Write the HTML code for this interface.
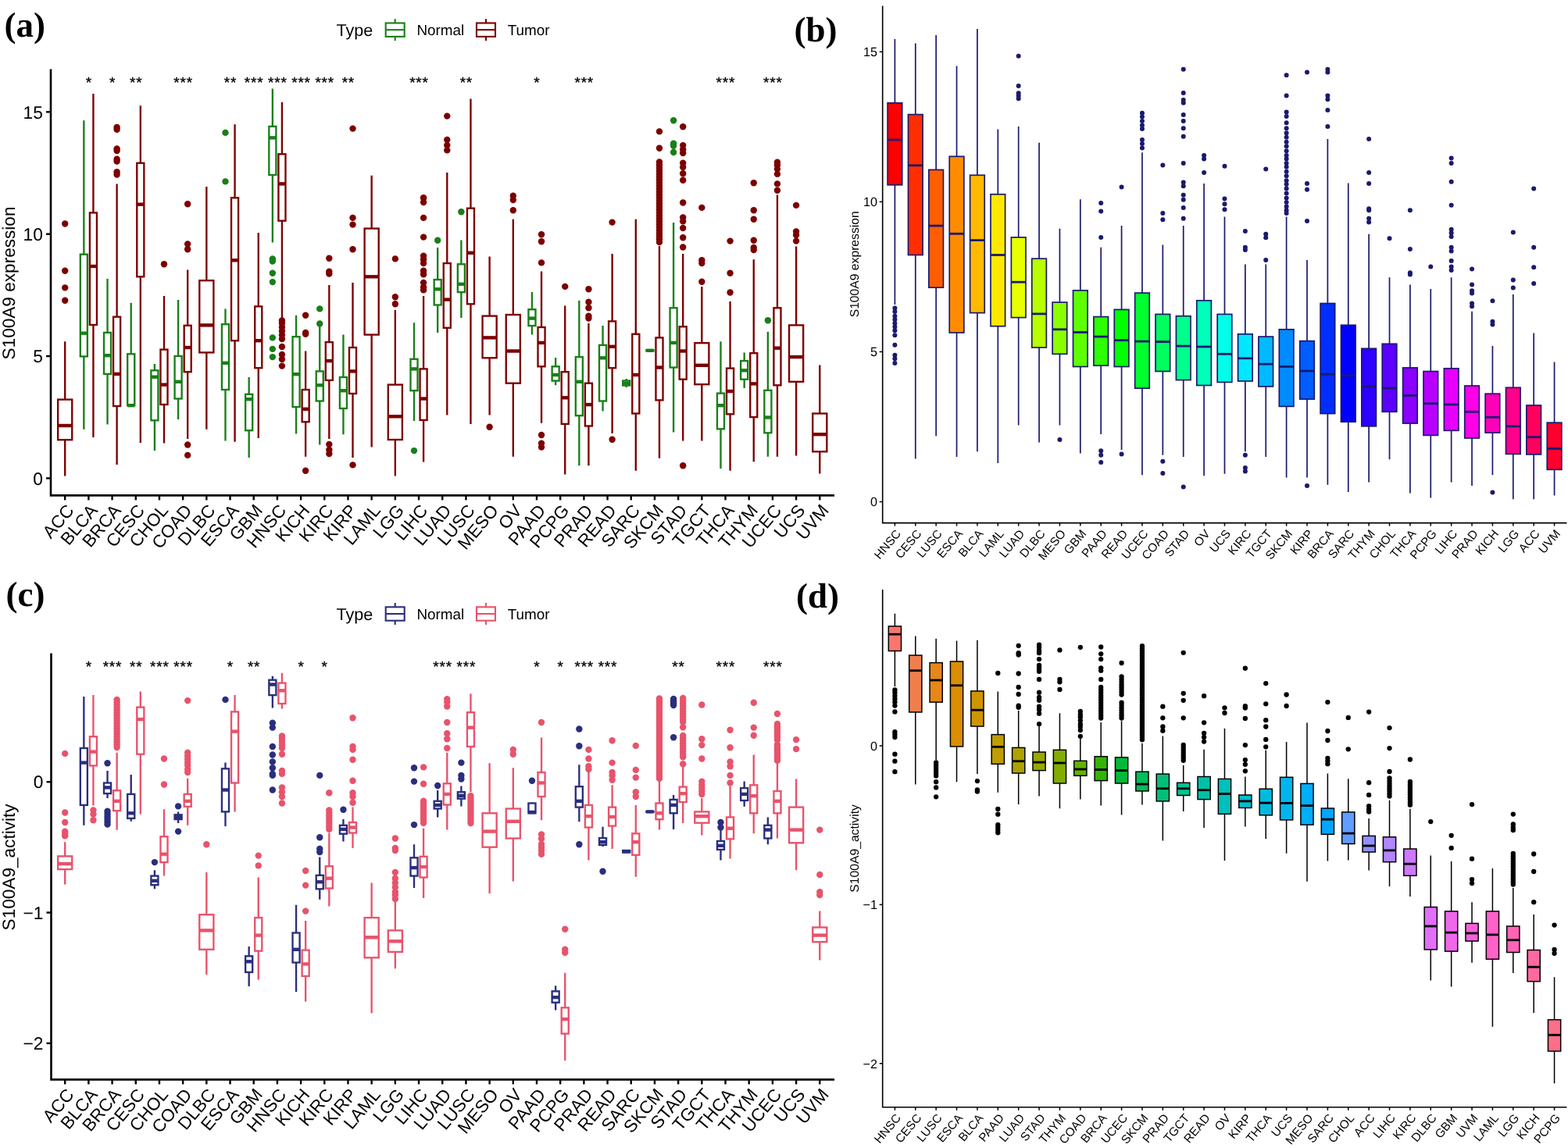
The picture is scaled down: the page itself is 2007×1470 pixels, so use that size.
<!DOCTYPE html><html><head><meta charset="utf-8"><title>S100A9 expression and activity</title><style>html,body{margin:0;padding:0;background:#fff;}svg{display:block;}</style></head><body><svg width="2007" height="1470" viewBox="0 0 2007 1470" text-rendering="geometricPrecision"><rect width="2007" height="1470" fill="#fff"/><path d="M83.2 437.3V511.6M83.2 563.2V609.5" stroke="#7C0000" stroke-width="2.35"/><rect x="74.15" y="511.6" width="18.1" height="51.6" fill="#fff" stroke="#7C0000" stroke-width="2.35"/><path d="M74.15 545H92.25" stroke="#7C0000" stroke-width="4.4"/><circle cx="83.2" cy="286.5" r="4.2" fill="#7C0000"/><circle cx="83.2" cy="346.7" r="4.2" fill="#7C0000"/><circle cx="83.2" cy="368.4" r="4.2" fill="#7C0000"/><circle cx="83.2" cy="384.8" r="4.2" fill="#7C0000"/><path d="M107.35 154.3V325.7M107.35 456.4V549.7" stroke="#187F18" stroke-width="2.35"/><rect x="102.82" y="325.7" width="9.06" height="130.7" fill="#fff" stroke="#187F18" stroke-width="2.35"/><path d="M102.82 426.7H111.88" stroke="#187F18" stroke-width="4.4"/><path d="M119.43 120V272.4M119.43 416V560" stroke="#7C0000" stroke-width="2.35"/><rect x="114.9" y="272.4" width="9.06" height="143.6" fill="#fff" stroke="#7C0000" stroke-width="2.35"/><path d="M114.9 341H123.96" stroke="#7C0000" stroke-width="4.4"/><path d="M137.54 357V425.9M137.54 478.9V543.6" stroke="#187F18" stroke-width="2.35"/><rect x="133.01" y="425.9" width="9.06" height="53" fill="#fff" stroke="#187F18" stroke-width="2.35"/><path d="M133.01 455.2H142.07" stroke="#187F18" stroke-width="4.4"/><path d="M149.62 235.4V405.7M149.62 520V595" stroke="#7C0000" stroke-width="2.35"/><rect x="145.09" y="405.7" width="9.06" height="114.3" fill="#fff" stroke="#7C0000" stroke-width="2.35"/><path d="M145.09 478.9H154.15" stroke="#7C0000" stroke-width="4.4"/><circle cx="149.62" cy="163" r="4.2" fill="#7C0000"/><circle cx="149.62" cy="165.7" r="4.2" fill="#7C0000"/><circle cx="149.62" cy="190.5" r="4.2" fill="#7C0000"/><circle cx="149.62" cy="193" r="4.2" fill="#7C0000"/><circle cx="149.62" cy="203.8" r="4.2" fill="#7C0000"/><circle cx="149.62" cy="206.5" r="4.2" fill="#7C0000"/><circle cx="149.62" cy="220.2" r="4.2" fill="#7C0000"/><circle cx="149.62" cy="223.6" r="4.2" fill="#7C0000"/><path d="M167.73 387.8V453.3M167.73 519.2V519.2" stroke="#187F18" stroke-width="2.35"/><rect x="163.2" y="453.3" width="9.06" height="65.9" fill="#fff" stroke="#187F18" stroke-width="2.35"/><path d="M163.2 519.2H172.26" stroke="#187F18" stroke-width="4.4"/><path d="M179.81 135.2V208.8M179.81 354.3V566.9" stroke="#7C0000" stroke-width="2.35"/><rect x="175.28" y="208.8" width="9.06" height="145.5" fill="#fff" stroke="#7C0000" stroke-width="2.35"/><path d="M175.28 261.7H184.34" stroke="#7C0000" stroke-width="4.4"/><path d="M197.92 466V474.3M197.92 538.3V577.1" stroke="#187F18" stroke-width="2.35"/><rect x="193.39" y="474.3" width="9.06" height="64" fill="#fff" stroke="#187F18" stroke-width="2.35"/><path d="M193.39 482.7H202.45" stroke="#187F18" stroke-width="4.4"/><path d="M210 379V447.6M210 518V567.6" stroke="#7C0000" stroke-width="2.35"/><rect x="205.47" y="447.6" width="9.06" height="70.4" fill="#fff" stroke="#7C0000" stroke-width="2.35"/><path d="M205.47 492.6H214.53" stroke="#7C0000" stroke-width="4.4"/><circle cx="210" cy="338.3" r="4.2" fill="#7C0000"/><path d="M228.11 384V456M228.11 510.5V537" stroke="#187F18" stroke-width="2.35"/><rect x="223.58" y="456" width="9.06" height="54.5" fill="#fff" stroke="#187F18" stroke-width="2.35"/><path d="M223.58 488.8H232.64" stroke="#187F18" stroke-width="4.4"/><path d="M240.19 345.5V416.8M240.19 476.2V562" stroke="#7C0000" stroke-width="2.35"/><rect x="235.66" y="416.8" width="9.06" height="59.4" fill="#fff" stroke="#7C0000" stroke-width="2.35"/><path d="M235.66 445H244.72" stroke="#7C0000" stroke-width="4.4"/><circle cx="240.19" cy="261.3" r="4.2" fill="#7C0000"/><circle cx="240.19" cy="312.4" r="4.2" fill="#7C0000"/><circle cx="240.19" cy="319.2" r="4.2" fill="#7C0000"/><circle cx="240.19" cy="569.5" r="4.2" fill="#7C0000"/><circle cx="240.19" cy="582.9" r="4.2" fill="#7C0000"/><path d="M264.34 238.9V359.2M264.34 451.4V549.7" stroke="#7C0000" stroke-width="2.35"/><rect x="255.29" y="359.2" width="18.1" height="92.2" fill="#fff" stroke="#7C0000" stroke-width="2.35"/><path d="M255.29 416.4H273.39" stroke="#7C0000" stroke-width="4.4"/><path d="M288.49 395.4V415.2M288.49 499V564.6" stroke="#187F18" stroke-width="2.35"/><rect x="283.96" y="415.2" width="9.06" height="83.8" fill="#fff" stroke="#187F18" stroke-width="2.35"/><path d="M283.96 464.8H293.02" stroke="#187F18" stroke-width="4.4"/><circle cx="288.49" cy="169.9" r="4.2" fill="#187F18"/><circle cx="288.49" cy="232.4" r="4.2" fill="#187F18"/><path d="M300.57 159.2V253.3M300.57 436.2V565.7" stroke="#7C0000" stroke-width="2.35"/><rect x="296.04" y="253.3" width="9.06" height="182.9" fill="#fff" stroke="#7C0000" stroke-width="2.35"/><path d="M296.04 333.3H305.1" stroke="#7C0000" stroke-width="4.4"/><path d="M318.68 483V504.8M318.68 551.2V585.9" stroke="#187F18" stroke-width="2.35"/><rect x="314.15" y="504.8" width="9.06" height="46.4" fill="#fff" stroke="#187F18" stroke-width="2.35"/><path d="M314.15 511.2H323.21" stroke="#187F18" stroke-width="4.4"/><path d="M330.76 297.9V392.4M330.76 471.2V561.1" stroke="#7C0000" stroke-width="2.35"/><rect x="326.23" y="392.4" width="9.06" height="78.8" fill="#fff" stroke="#7C0000" stroke-width="2.35"/><path d="M326.23 436.2H335.29" stroke="#7C0000" stroke-width="4.4"/><path d="M348.87 113.5V161.9M348.87 224V310.5" stroke="#187F18" stroke-width="2.35"/><rect x="344.34" y="161.9" width="9.06" height="62.1" fill="#fff" stroke="#187F18" stroke-width="2.35"/><path d="M344.34 176.4H353.4" stroke="#187F18" stroke-width="4.4"/><circle cx="348.87" cy="331.4" r="4.2" fill="#187F18"/><circle cx="348.87" cy="334.5" r="4.2" fill="#187F18"/><circle cx="348.87" cy="349.7" r="4.2" fill="#187F18"/><circle cx="348.87" cy="361.1" r="4.2" fill="#187F18"/><circle cx="348.87" cy="432.4" r="4.2" fill="#187F18"/><circle cx="348.87" cy="446.9" r="4.2" fill="#187F18"/><circle cx="348.87" cy="457.1" r="4.2" fill="#187F18"/><path d="M360.95 130.7V197.3M360.95 282.7V408" stroke="#7C0000" stroke-width="2.35"/><rect x="356.42" y="197.3" width="9.06" height="85.4" fill="#fff" stroke="#7C0000" stroke-width="2.35"/><path d="M356.42 235.4H365.48" stroke="#7C0000" stroke-width="4.4"/><circle cx="360.95" cy="410.5" r="4.2" fill="#7C0000"/><circle cx="360.95" cy="414" r="4.2" fill="#7C0000"/><circle cx="360.95" cy="419" r="4.2" fill="#7C0000"/><circle cx="360.95" cy="424" r="4.2" fill="#7C0000"/><circle cx="360.95" cy="429" r="4.2" fill="#7C0000"/><circle cx="360.95" cy="434" r="4.2" fill="#7C0000"/><circle cx="360.95" cy="444" r="4.2" fill="#7C0000"/><circle cx="360.95" cy="454" r="4.2" fill="#7C0000"/><circle cx="360.95" cy="460" r="4.2" fill="#7C0000"/><circle cx="360.95" cy="468.6" r="4.2" fill="#7C0000"/><path d="M379.06 403.8V431.2M379.06 521.1V555.4" stroke="#187F18" stroke-width="2.35"/><rect x="374.53" y="431.2" width="9.06" height="89.9" fill="#fff" stroke="#187F18" stroke-width="2.35"/><path d="M374.53 479.2H383.59" stroke="#187F18" stroke-width="4.4"/><path d="M391.14 449.5V499M391.14 540.2V584.8" stroke="#7C0000" stroke-width="2.35"/><rect x="386.61" y="499" width="9.06" height="41.2" fill="#fff" stroke="#7C0000" stroke-width="2.35"/><path d="M386.61 523.8H395.67" stroke="#7C0000" stroke-width="4.4"/><circle cx="391.14" cy="403.8" r="4.2" fill="#7C0000"/><circle cx="391.14" cy="425.9" r="4.2" fill="#7C0000"/><circle cx="391.14" cy="427.8" r="4.2" fill="#7C0000"/><circle cx="391.14" cy="602.7" r="4.2" fill="#7C0000"/><path d="M409.25 418.3V475.4M409.25 513.5V569.5" stroke="#187F18" stroke-width="2.35"/><rect x="404.72" y="475.4" width="9.06" height="38.1" fill="#fff" stroke="#187F18" stroke-width="2.35"/><path d="M404.72 493.3H413.78" stroke="#187F18" stroke-width="4.4"/><circle cx="409.25" cy="395.4" r="4.2" fill="#187F18"/><circle cx="409.25" cy="414.5" r="4.2" fill="#187F18"/><path d="M421.33 365V438.1M421.33 486.9V561.9" stroke="#7C0000" stroke-width="2.35"/><rect x="416.8" y="438.1" width="9.06" height="48.8" fill="#fff" stroke="#7C0000" stroke-width="2.35"/><path d="M416.8 462.1H425.86" stroke="#7C0000" stroke-width="4.4"/><circle cx="421.33" cy="330.7" r="4.2" fill="#7C0000"/><circle cx="421.33" cy="347.8" r="4.2" fill="#7C0000"/><circle cx="421.33" cy="350.5" r="4.2" fill="#7C0000"/><circle cx="421.33" cy="569" r="4.2" fill="#7C0000"/><circle cx="421.33" cy="576" r="4.2" fill="#7C0000"/><circle cx="421.33" cy="581" r="4.2" fill="#7C0000"/><path d="M439.44 428.6V483M439.44 523V556.2" stroke="#187F18" stroke-width="2.35"/><rect x="434.91" y="483" width="9.06" height="40" fill="#fff" stroke="#187F18" stroke-width="2.35"/><path d="M434.91 500.2H443.97" stroke="#187F18" stroke-width="4.4"/><path d="M451.52 361.9V445M451.52 504V585.9" stroke="#7C0000" stroke-width="2.35"/><rect x="446.99" y="445" width="9.06" height="59" fill="#fff" stroke="#7C0000" stroke-width="2.35"/><path d="M446.99 475.4H456.05" stroke="#7C0000" stroke-width="4.4"/><circle cx="451.52" cy="164.6" r="4.2" fill="#7C0000"/><circle cx="451.52" cy="278.9" r="4.2" fill="#7C0000"/><circle cx="451.52" cy="287.6" r="4.2" fill="#7C0000"/><circle cx="451.52" cy="319.2" r="4.2" fill="#7C0000"/><circle cx="451.52" cy="595.4" r="4.2" fill="#7C0000"/><path d="M475.67 224.8V292.6M475.67 428.6V572.6" stroke="#7C0000" stroke-width="2.35"/><rect x="466.62" y="292.6" width="18.1" height="136" fill="#fff" stroke="#7C0000" stroke-width="2.35"/><path d="M466.62 354.3H484.72" stroke="#7C0000" stroke-width="4.4"/><path d="M505.86 397V492.6M505.86 563V609.5" stroke="#7C0000" stroke-width="2.35"/><rect x="496.81" y="492.6" width="18.1" height="70.4" fill="#fff" stroke="#7C0000" stroke-width="2.35"/><path d="M496.81 533.3H514.91" stroke="#7C0000" stroke-width="4.4"/><circle cx="505.86" cy="331.4" r="4.2" fill="#7C0000"/><circle cx="505.86" cy="380.2" r="4.2" fill="#7C0000"/><circle cx="505.86" cy="389.3" r="4.2" fill="#7C0000"/><path d="M530.01 413.3V459.8M530.01 500.2V539" stroke="#187F18" stroke-width="2.35"/><rect x="525.48" y="459.8" width="9.06" height="40.4" fill="#fff" stroke="#187F18" stroke-width="2.35"/><path d="M525.48 472.4H534.54" stroke="#187F18" stroke-width="4.4"/><circle cx="530.01" cy="577.1" r="4.2" fill="#187F18"/><path d="M542.09 379V472.4M542.09 537.9V591.6" stroke="#7C0000" stroke-width="2.35"/><rect x="537.56" y="472.4" width="9.06" height="65.5" fill="#fff" stroke="#7C0000" stroke-width="2.35"/><path d="M537.56 510.5H546.62" stroke="#7C0000" stroke-width="4.4"/><circle cx="542.09" cy="253.3" r="4.2" fill="#7C0000"/><circle cx="542.09" cy="259" r="4.2" fill="#7C0000"/><circle cx="542.09" cy="278.9" r="4.2" fill="#7C0000"/><circle cx="542.09" cy="303.6" r="4.2" fill="#7C0000"/><circle cx="542.09" cy="327.6" r="4.2" fill="#7C0000"/><circle cx="542.09" cy="332.2" r="4.2" fill="#7C0000"/><circle cx="542.09" cy="337.1" r="4.2" fill="#7C0000"/><circle cx="542.09" cy="346.7" r="4.2" fill="#7C0000"/><circle cx="542.09" cy="351.2" r="4.2" fill="#7C0000"/><circle cx="542.09" cy="361.9" r="4.2" fill="#7C0000"/><circle cx="542.09" cy="367.6" r="4.2" fill="#7C0000"/><circle cx="542.09" cy="371.4" r="4.2" fill="#7C0000"/><path d="M560.2 317V358.1M560.2 390.5V425.9" stroke="#187F18" stroke-width="2.35"/><rect x="555.67" y="358.1" width="9.06" height="32.4" fill="#fff" stroke="#187F18" stroke-width="2.35"/><path d="M555.67 370.3H564.73" stroke="#187F18" stroke-width="4.4"/><circle cx="560.2" cy="307.8" r="4.2" fill="#187F18"/><path d="M572.28 221V337.1M572.28 419.8V531.4" stroke="#7C0000" stroke-width="2.35"/><rect x="567.75" y="337.1" width="9.06" height="82.7" fill="#fff" stroke="#7C0000" stroke-width="2.35"/><path d="M567.75 383.6H576.81" stroke="#7C0000" stroke-width="4.4"/><circle cx="572.28" cy="148.6" r="4.2" fill="#7C0000"/><circle cx="572.28" cy="179" r="4.2" fill="#7C0000"/><circle cx="572.28" cy="185.9" r="4.2" fill="#7C0000"/><circle cx="572.28" cy="192.4" r="4.2" fill="#7C0000"/><path d="M590.39 307.4V338.3M590.39 374.1V406.9" stroke="#187F18" stroke-width="2.35"/><rect x="585.86" y="338.3" width="9.06" height="35.8" fill="#fff" stroke="#187F18" stroke-width="2.35"/><path d="M585.86 363.8H594.92" stroke="#187F18" stroke-width="4.4"/><circle cx="590.39" cy="271.2" r="4.2" fill="#187F18"/><path d="M602.47 126.5V266.7M602.47 389.3V542.9" stroke="#7C0000" stroke-width="2.35"/><rect x="597.94" y="266.7" width="9.06" height="122.6" fill="#fff" stroke="#7C0000" stroke-width="2.35"/><path d="M597.94 323.8H607" stroke="#7C0000" stroke-width="4.4"/><path d="M626.62 328.4V404.6M626.62 458.3V531.4" stroke="#7C0000" stroke-width="2.35"/><rect x="617.57" y="404.6" width="18.1" height="53.7" fill="#fff" stroke="#7C0000" stroke-width="2.35"/><path d="M617.57 432.4H635.67" stroke="#7C0000" stroke-width="4.4"/><circle cx="626.62" cy="546.7" r="4.2" fill="#7C0000"/><path d="M656.81 280.8V403M656.81 490.7V584.8" stroke="#7C0000" stroke-width="2.35"/><rect x="647.76" y="403" width="18.1" height="87.7" fill="#fff" stroke="#7C0000" stroke-width="2.35"/><path d="M647.76 449.5H665.86" stroke="#7C0000" stroke-width="4.4"/><circle cx="656.81" cy="250.7" r="4.2" fill="#7C0000"/><circle cx="656.81" cy="256" r="4.2" fill="#7C0000"/><circle cx="656.81" cy="269.3" r="4.2" fill="#7C0000"/><path d="M680.96 374.1V396.2M680.96 417.1V428.6" stroke="#187F18" stroke-width="2.35"/><rect x="676.43" y="396.2" width="9.06" height="20.9" fill="#fff" stroke="#187F18" stroke-width="2.35"/><path d="M676.43 407.6H685.49" stroke="#187F18" stroke-width="4.4"/><path d="M693.04 347.4V419M693.04 469.3V541.7" stroke="#7C0000" stroke-width="2.35"/><rect x="688.51" y="419" width="9.06" height="50.3" fill="#fff" stroke="#7C0000" stroke-width="2.35"/><path d="M688.51 438.9H697.57" stroke="#7C0000" stroke-width="4.4"/><circle cx="693.04" cy="300.2" r="4.2" fill="#7C0000"/><circle cx="693.04" cy="309.3" r="4.2" fill="#7C0000"/><circle cx="693.04" cy="336.4" r="4.2" fill="#7C0000"/><circle cx="693.04" cy="557" r="4.2" fill="#7C0000"/><circle cx="693.04" cy="567.6" r="4.2" fill="#7C0000"/><circle cx="693.04" cy="572.6" r="4.2" fill="#7C0000"/><path d="M711.15 457.9V469.3M711.15 487.6V493.3" stroke="#187F18" stroke-width="2.35"/><rect x="706.62" y="469.3" width="9.06" height="18.3" fill="#fff" stroke="#187F18" stroke-width="2.35"/><path d="M706.62 480H715.68" stroke="#187F18" stroke-width="4.4"/><path d="M723.23 391.6V476.2M723.23 542.9V607.6" stroke="#7C0000" stroke-width="2.35"/><rect x="718.7" y="476.2" width="9.06" height="66.7" fill="#fff" stroke="#7C0000" stroke-width="2.35"/><path d="M718.7 509.3H727.76" stroke="#7C0000" stroke-width="4.4"/><circle cx="723.23" cy="366.9" r="4.2" fill="#7C0000"/><path d="M741.34 384.8V457.1M741.34 532.2V596.2" stroke="#187F18" stroke-width="2.35"/><rect x="736.81" y="457.1" width="9.06" height="75.1" fill="#fff" stroke="#187F18" stroke-width="2.35"/><path d="M736.81 488.8H745.87" stroke="#187F18" stroke-width="4.4"/><path d="M753.42 414.1V490.7M753.42 545.5V596.2" stroke="#7C0000" stroke-width="2.35"/><rect x="748.89" y="490.7" width="9.06" height="54.8" fill="#fff" stroke="#7C0000" stroke-width="2.35"/><path d="M748.89 518.1H757.95" stroke="#7C0000" stroke-width="4.4"/><circle cx="753.42" cy="370.3" r="4.2" fill="#7C0000"/><circle cx="753.42" cy="386.7" r="4.2" fill="#7C0000"/><circle cx="753.42" cy="394.3" r="4.2" fill="#7C0000"/><circle cx="753.42" cy="404.6" r="4.2" fill="#7C0000"/><circle cx="753.42" cy="407.6" r="4.2" fill="#7C0000"/><path d="M771.53 417.1V441.9M771.53 513.5V526.5" stroke="#187F18" stroke-width="2.35"/><rect x="767" y="441.9" width="9.06" height="71.6" fill="#fff" stroke="#187F18" stroke-width="2.35"/><path d="M767 458.3H776.06" stroke="#187F18" stroke-width="4.4"/><path d="M783.61 325V411.4M783.61 471.2V555" stroke="#7C0000" stroke-width="2.35"/><rect x="779.08" y="411.4" width="9.06" height="59.8" fill="#fff" stroke="#7C0000" stroke-width="2.35"/><path d="M779.08 443.8H788.14" stroke="#7C0000" stroke-width="4.4"/><circle cx="783.61" cy="284.6" r="4.2" fill="#7C0000"/><circle cx="783.61" cy="562.7" r="4.2" fill="#7C0000"/><path d="M801.72 485V487.5M801.72 493.5V496" stroke="#187F18" stroke-width="2.35"/><rect x="797.19" y="487.5" width="9.06" height="6" fill="#fff" stroke="#187F18" stroke-width="2.35"/><path d="M797.19 490.7H806.25" stroke="#187F18" stroke-width="4.4"/><path d="M813.8 280.8V427.8M813.8 529.5V602.7" stroke="#7C0000" stroke-width="2.35"/><rect x="809.27" y="427.8" width="9.06" height="101.7" fill="#fff" stroke="#7C0000" stroke-width="2.35"/><path d="M809.27 480H818.33" stroke="#7C0000" stroke-width="4.4"/><path d="M831.91 447.6V448.2M831.91 449.4V450" stroke="#187F18" stroke-width="2.35"/><rect x="827.38" y="448.2" width="9.06" height="1.2" fill="#fff" stroke="#187F18" stroke-width="2.35"/><path d="M827.38 448.8H836.44" stroke="#187F18" stroke-width="4.4"/><path d="M843.99 315V432.4M843.99 512.4V586.7" stroke="#7C0000" stroke-width="2.35"/><rect x="839.46" y="432.4" width="9.06" height="80" fill="#fff" stroke="#7C0000" stroke-width="2.35"/><path d="M839.46 470.5H848.52" stroke="#7C0000" stroke-width="4.4"/><circle cx="843.99" cy="168.4" r="4.2" fill="#7C0000"/><circle cx="843.99" cy="189.8" r="4.2" fill="#7C0000"/><circle cx="843.99" cy="207.5" r="4.2" fill="#7C0000"/><circle cx="843.99" cy="211.3" r="4.2" fill="#7C0000"/><circle cx="843.99" cy="215.1" r="4.2" fill="#7C0000"/><circle cx="843.99" cy="218.9" r="4.2" fill="#7C0000"/><circle cx="843.99" cy="222.7" r="4.2" fill="#7C0000"/><circle cx="843.99" cy="226.5" r="4.2" fill="#7C0000"/><circle cx="843.99" cy="230.3" r="4.2" fill="#7C0000"/><circle cx="843.99" cy="234.1" r="4.2" fill="#7C0000"/><circle cx="843.99" cy="237.9" r="4.2" fill="#7C0000"/><circle cx="843.99" cy="241.7" r="4.2" fill="#7C0000"/><circle cx="843.99" cy="245.5" r="4.2" fill="#7C0000"/><circle cx="843.99" cy="249.3" r="4.2" fill="#7C0000"/><circle cx="843.99" cy="253.1" r="4.2" fill="#7C0000"/><circle cx="843.99" cy="256.9" r="4.2" fill="#7C0000"/><circle cx="843.99" cy="260.7" r="4.2" fill="#7C0000"/><circle cx="843.99" cy="264.5" r="4.2" fill="#7C0000"/><circle cx="843.99" cy="268.3" r="4.2" fill="#7C0000"/><circle cx="843.99" cy="272.1" r="4.2" fill="#7C0000"/><circle cx="843.99" cy="275.9" r="4.2" fill="#7C0000"/><circle cx="843.99" cy="279.7" r="4.2" fill="#7C0000"/><circle cx="843.99" cy="283.5" r="4.2" fill="#7C0000"/><circle cx="843.99" cy="287.3" r="4.2" fill="#7C0000"/><circle cx="843.99" cy="291.1" r="4.2" fill="#7C0000"/><circle cx="843.99" cy="294.9" r="4.2" fill="#7C0000"/><circle cx="843.99" cy="298.7" r="4.2" fill="#7C0000"/><circle cx="843.99" cy="302.5" r="4.2" fill="#7C0000"/><circle cx="843.99" cy="306.3" r="4.2" fill="#7C0000"/><circle cx="843.99" cy="310.1" r="4.2" fill="#7C0000"/><path d="M862.1 285V394.3M862.1 470.5V553.5" stroke="#187F18" stroke-width="2.35"/><rect x="857.57" y="394.3" width="9.06" height="76.2" fill="#fff" stroke="#187F18" stroke-width="2.35"/><path d="M857.57 438.9H866.63" stroke="#187F18" stroke-width="4.4"/><circle cx="862.1" cy="154.3" r="4.2" fill="#187F18"/><circle cx="862.1" cy="183.6" r="4.2" fill="#187F18"/><circle cx="862.1" cy="186.7" r="4.2" fill="#187F18"/><circle cx="862.1" cy="195" r="4.2" fill="#187F18"/><path d="M874.18 325V418.3M874.18 485.7V564.6" stroke="#7C0000" stroke-width="2.35"/><rect x="869.65" y="418.3" width="9.06" height="67.4" fill="#fff" stroke="#7C0000" stroke-width="2.35"/><path d="M869.65 449.5H878.71" stroke="#7C0000" stroke-width="4.4"/><circle cx="874.18" cy="162.2" r="4.2" fill="#7C0000"/><circle cx="874.18" cy="186.1" r="4.2" fill="#7C0000"/><circle cx="874.18" cy="191.5" r="4.2" fill="#7C0000"/><circle cx="874.18" cy="196" r="4.2" fill="#7C0000"/><circle cx="874.18" cy="208.8" r="4.2" fill="#7C0000"/><circle cx="874.18" cy="214" r="4.2" fill="#7C0000"/><circle cx="874.18" cy="222.2" r="4.2" fill="#7C0000"/><circle cx="874.18" cy="230.8" r="4.2" fill="#7C0000"/><circle cx="874.18" cy="259.5" r="4.2" fill="#7C0000"/><circle cx="874.18" cy="278.5" r="4.2" fill="#7C0000"/><circle cx="874.18" cy="283.4" r="4.2" fill="#7C0000"/><circle cx="874.18" cy="292" r="4.2" fill="#7C0000"/><circle cx="874.18" cy="304.2" r="4.2" fill="#7C0000"/><circle cx="874.18" cy="316.5" r="4.2" fill="#7C0000"/><circle cx="874.18" cy="596.2" r="4.2" fill="#7C0000"/><path d="M898.33 367V439.2M898.33 492.2V564.6" stroke="#7C0000" stroke-width="2.35"/><rect x="889.28" y="439.2" width="18.1" height="53" fill="#fff" stroke="#7C0000" stroke-width="2.35"/><path d="M889.28 467.8H907.38" stroke="#7C0000" stroke-width="4.4"/><circle cx="898.33" cy="265.9" r="4.2" fill="#7C0000"/><circle cx="898.33" cy="333.3" r="4.2" fill="#7C0000"/><circle cx="898.33" cy="337.1" r="4.2" fill="#7C0000"/><circle cx="898.33" cy="360.8" r="4.2" fill="#7C0000"/><path d="M922.48 437.3V503.6M922.48 549.3V600" stroke="#187F18" stroke-width="2.35"/><rect x="917.95" y="503.6" width="9.06" height="45.7" fill="#fff" stroke="#187F18" stroke-width="2.35"/><path d="M917.95 519.2H927.01" stroke="#187F18" stroke-width="4.4"/><path d="M934.56 385.9V471.6M934.56 530.3V602.7" stroke="#7C0000" stroke-width="2.35"/><rect x="930.03" y="471.6" width="9.06" height="58.7" fill="#fff" stroke="#7C0000" stroke-width="2.35"/><path d="M930.03 501H939.09" stroke="#7C0000" stroke-width="4.4"/><circle cx="934.56" cy="308.6" r="4.2" fill="#7C0000"/><circle cx="934.56" cy="349.7" r="4.2" fill="#7C0000"/><circle cx="934.56" cy="374.5" r="4.2" fill="#7C0000"/><path d="M952.67 451.4V462.1M952.67 485.7V497.1" stroke="#187F18" stroke-width="2.35"/><rect x="948.14" y="462.1" width="9.06" height="23.6" fill="#fff" stroke="#187F18" stroke-width="2.35"/><path d="M948.14 474.3H957.2" stroke="#187F18" stroke-width="4.4"/><path d="M964.75 332.2V452.2M964.75 534.1V591.2" stroke="#7C0000" stroke-width="2.35"/><rect x="960.22" y="452.2" width="9.06" height="81.9" fill="#fff" stroke="#7C0000" stroke-width="2.35"/><path d="M960.22 491.4H969.28" stroke="#7C0000" stroke-width="4.4"/><circle cx="964.75" cy="234.3" r="4.2" fill="#7C0000"/><circle cx="964.75" cy="269.3" r="4.2" fill="#7C0000"/><circle cx="964.75" cy="280.8" r="4.2" fill="#7C0000"/><circle cx="964.75" cy="307.8" r="4.2" fill="#7C0000"/><circle cx="964.75" cy="317" r="4.2" fill="#7C0000"/><circle cx="964.75" cy="320" r="4.2" fill="#7C0000"/><path d="M982.86 424.8V499.8M982.86 554.3V584.8" stroke="#187F18" stroke-width="2.35"/><rect x="978.33" y="499.8" width="9.06" height="54.5" fill="#fff" stroke="#187F18" stroke-width="2.35"/><path d="M978.33 534.5H987.39" stroke="#187F18" stroke-width="4.4"/><circle cx="982.86" cy="410.3" r="4.2" fill="#187F18"/><path d="M994.94 249.5V394.3M994.94 493.3V584.8" stroke="#7C0000" stroke-width="2.35"/><rect x="990.41" y="394.3" width="9.06" height="99" fill="#fff" stroke="#7C0000" stroke-width="2.35"/><path d="M990.41 445.7H999.47" stroke="#7C0000" stroke-width="4.4"/><circle cx="994.94" cy="207.6" r="4.2" fill="#7C0000"/><circle cx="994.94" cy="211.4" r="4.2" fill="#7C0000"/><circle cx="994.94" cy="216.4" r="4.2" fill="#7C0000"/><circle cx="994.94" cy="222.9" r="4.2" fill="#7C0000"/><circle cx="994.94" cy="235.4" r="4.2" fill="#7C0000"/><circle cx="994.94" cy="243.8" r="4.2" fill="#7C0000"/><path d="M1019.09 315.4V416.4M1019.09 488.8V583.6" stroke="#7C0000" stroke-width="2.35"/><rect x="1010.04" y="416.4" width="18.1" height="72.4" fill="#fff" stroke="#7C0000" stroke-width="2.35"/><path d="M1010.04 457.1H1028.14" stroke="#7C0000" stroke-width="4.4"/><circle cx="1019.09" cy="262.9" r="4.2" fill="#7C0000"/><circle cx="1019.09" cy="296.4" r="4.2" fill="#7C0000"/><circle cx="1019.09" cy="301" r="4.2" fill="#7C0000"/><circle cx="1019.09" cy="308.6" r="4.2" fill="#7C0000"/><path d="M1049.28 467.4V529.5M1049.28 578.3V606.5" stroke="#7C0000" stroke-width="2.35"/><rect x="1040.23" y="529.5" width="18.1" height="48.8" fill="#fff" stroke="#7C0000" stroke-width="2.35"/><path d="M1040.23 556.2H1058.33" stroke="#7C0000" stroke-width="4.4"/><text x="113.79" y="111.7" text-anchor="middle" font-size="19" letter-spacing="0.8" stroke="#000" stroke-width="0.35" font-family="'Liberation Sans', Arial, Helvetica, sans-serif">*</text><text x="143.98" y="111.7" text-anchor="middle" font-size="19" letter-spacing="0.8" stroke="#000" stroke-width="0.35" font-family="'Liberation Sans', Arial, Helvetica, sans-serif">*</text><text x="174.17" y="111.7" text-anchor="middle" font-size="19" letter-spacing="0.8" stroke="#000" stroke-width="0.35" font-family="'Liberation Sans', Arial, Helvetica, sans-serif">**</text><text x="234.55" y="111.7" text-anchor="middle" font-size="19" letter-spacing="0.8" stroke="#000" stroke-width="0.35" font-family="'Liberation Sans', Arial, Helvetica, sans-serif">***</text><text x="294.93" y="111.7" text-anchor="middle" font-size="19" letter-spacing="0.8" stroke="#000" stroke-width="0.35" font-family="'Liberation Sans', Arial, Helvetica, sans-serif">**</text><text x="325.12" y="111.7" text-anchor="middle" font-size="19" letter-spacing="0.8" stroke="#000" stroke-width="0.35" font-family="'Liberation Sans', Arial, Helvetica, sans-serif">***</text><text x="355.31" y="111.7" text-anchor="middle" font-size="19" letter-spacing="0.8" stroke="#000" stroke-width="0.35" font-family="'Liberation Sans', Arial, Helvetica, sans-serif">***</text><text x="385.5" y="111.7" text-anchor="middle" font-size="19" letter-spacing="0.8" stroke="#000" stroke-width="0.35" font-family="'Liberation Sans', Arial, Helvetica, sans-serif">***</text><text x="415.69" y="111.7" text-anchor="middle" font-size="19" letter-spacing="0.8" stroke="#000" stroke-width="0.35" font-family="'Liberation Sans', Arial, Helvetica, sans-serif">***</text><text x="445.88" y="111.7" text-anchor="middle" font-size="19" letter-spacing="0.8" stroke="#000" stroke-width="0.35" font-family="'Liberation Sans', Arial, Helvetica, sans-serif">**</text><text x="536.45" y="111.7" text-anchor="middle" font-size="19" letter-spacing="0.8" stroke="#000" stroke-width="0.35" font-family="'Liberation Sans', Arial, Helvetica, sans-serif">***</text><text x="596.83" y="111.7" text-anchor="middle" font-size="19" letter-spacing="0.8" stroke="#000" stroke-width="0.35" font-family="'Liberation Sans', Arial, Helvetica, sans-serif">**</text><text x="687.4" y="111.7" text-anchor="middle" font-size="19" letter-spacing="0.8" stroke="#000" stroke-width="0.35" font-family="'Liberation Sans', Arial, Helvetica, sans-serif">*</text><text x="747.78" y="111.7" text-anchor="middle" font-size="19" letter-spacing="0.8" stroke="#000" stroke-width="0.35" font-family="'Liberation Sans', Arial, Helvetica, sans-serif">***</text><text x="928.92" y="111.7" text-anchor="middle" font-size="19" letter-spacing="0.8" stroke="#000" stroke-width="0.35" font-family="'Liberation Sans', Arial, Helvetica, sans-serif">***</text><text x="989.3" y="111.7" text-anchor="middle" font-size="19" letter-spacing="0.8" stroke="#000" stroke-width="0.35" font-family="'Liberation Sans', Arial, Helvetica, sans-serif">***</text><path d="M65 88.6V634.4H1068" fill="none" stroke="#000" stroke-width="2.6" stroke-linejoin="miter" stroke-linecap="butt"/><path d="M59 612.4H65" stroke="#000" stroke-width="2.4"/><text x="54.9" y="620.6" text-anchor="end" font-size="22.8" font-family="'Liberation Sans', Arial, Helvetica, sans-serif">0</text><path d="M59 456.05H65" stroke="#000" stroke-width="2.4"/><text x="54.9" y="464.25" text-anchor="end" font-size="22.8" font-family="'Liberation Sans', Arial, Helvetica, sans-serif">5</text><path d="M59 299.7H65" stroke="#000" stroke-width="2.4"/><text x="54.9" y="307.9" text-anchor="end" font-size="22.8" font-family="'Liberation Sans', Arial, Helvetica, sans-serif">10</text><path d="M59 143.35H65" stroke="#000" stroke-width="2.4"/><text x="54.9" y="151.55" text-anchor="end" font-size="22.8" font-family="'Liberation Sans', Arial, Helvetica, sans-serif">15</text><path d="M83.2 634.4V640.4" stroke="#000" stroke-width="2.4"/><text transform="translate(83.2 643.7) rotate(-50)" text-anchor="end" font-size="22.6" font-family="'Liberation Sans', Arial, Helvetica, sans-serif" dy="0.72em">ACC</text><path d="M113.39 634.4V640.4" stroke="#000" stroke-width="2.4"/><text transform="translate(113.39 643.7) rotate(-50)" text-anchor="end" font-size="22.6" font-family="'Liberation Sans', Arial, Helvetica, sans-serif" dy="0.72em">BLCA</text><path d="M143.58 634.4V640.4" stroke="#000" stroke-width="2.4"/><text transform="translate(143.58 643.7) rotate(-50)" text-anchor="end" font-size="22.6" font-family="'Liberation Sans', Arial, Helvetica, sans-serif" dy="0.72em">BRCA</text><path d="M173.77 634.4V640.4" stroke="#000" stroke-width="2.4"/><text transform="translate(173.77 643.7) rotate(-50)" text-anchor="end" font-size="22.6" font-family="'Liberation Sans', Arial, Helvetica, sans-serif" dy="0.72em">CESC</text><path d="M203.96 634.4V640.4" stroke="#000" stroke-width="2.4"/><text transform="translate(203.96 643.7) rotate(-50)" text-anchor="end" font-size="22.6" font-family="'Liberation Sans', Arial, Helvetica, sans-serif" dy="0.72em">CHOL</text><path d="M234.15 634.4V640.4" stroke="#000" stroke-width="2.4"/><text transform="translate(234.15 643.7) rotate(-50)" text-anchor="end" font-size="22.6" font-family="'Liberation Sans', Arial, Helvetica, sans-serif" dy="0.72em">COAD</text><path d="M264.34 634.4V640.4" stroke="#000" stroke-width="2.4"/><text transform="translate(264.34 643.7) rotate(-50)" text-anchor="end" font-size="22.6" font-family="'Liberation Sans', Arial, Helvetica, sans-serif" dy="0.72em">DLBC</text><path d="M294.53 634.4V640.4" stroke="#000" stroke-width="2.4"/><text transform="translate(294.53 643.7) rotate(-50)" text-anchor="end" font-size="22.6" font-family="'Liberation Sans', Arial, Helvetica, sans-serif" dy="0.72em">ESCA</text><path d="M324.72 634.4V640.4" stroke="#000" stroke-width="2.4"/><text transform="translate(324.72 643.7) rotate(-50)" text-anchor="end" font-size="22.6" font-family="'Liberation Sans', Arial, Helvetica, sans-serif" dy="0.72em">GBM</text><path d="M354.91 634.4V640.4" stroke="#000" stroke-width="2.4"/><text transform="translate(354.91 643.7) rotate(-50)" text-anchor="end" font-size="22.6" font-family="'Liberation Sans', Arial, Helvetica, sans-serif" dy="0.72em">HNSC</text><path d="M385.1 634.4V640.4" stroke="#000" stroke-width="2.4"/><text transform="translate(385.1 643.7) rotate(-50)" text-anchor="end" font-size="22.6" font-family="'Liberation Sans', Arial, Helvetica, sans-serif" dy="0.72em">KICH</text><path d="M415.29 634.4V640.4" stroke="#000" stroke-width="2.4"/><text transform="translate(415.29 643.7) rotate(-50)" text-anchor="end" font-size="22.6" font-family="'Liberation Sans', Arial, Helvetica, sans-serif" dy="0.72em">KIRC</text><path d="M445.48 634.4V640.4" stroke="#000" stroke-width="2.4"/><text transform="translate(445.48 643.7) rotate(-50)" text-anchor="end" font-size="22.6" font-family="'Liberation Sans', Arial, Helvetica, sans-serif" dy="0.72em">KIRP</text><path d="M475.67 634.4V640.4" stroke="#000" stroke-width="2.4"/><text transform="translate(475.67 643.7) rotate(-50)" text-anchor="end" font-size="22.6" font-family="'Liberation Sans', Arial, Helvetica, sans-serif" dy="0.72em">LAML</text><path d="M505.86 634.4V640.4" stroke="#000" stroke-width="2.4"/><text transform="translate(505.86 643.7) rotate(-50)" text-anchor="end" font-size="22.6" font-family="'Liberation Sans', Arial, Helvetica, sans-serif" dy="0.72em">LGG</text><path d="M536.05 634.4V640.4" stroke="#000" stroke-width="2.4"/><text transform="translate(536.05 643.7) rotate(-50)" text-anchor="end" font-size="22.6" font-family="'Liberation Sans', Arial, Helvetica, sans-serif" dy="0.72em">LIHC</text><path d="M566.24 634.4V640.4" stroke="#000" stroke-width="2.4"/><text transform="translate(566.24 643.7) rotate(-50)" text-anchor="end" font-size="22.6" font-family="'Liberation Sans', Arial, Helvetica, sans-serif" dy="0.72em">LUAD</text><path d="M596.43 634.4V640.4" stroke="#000" stroke-width="2.4"/><text transform="translate(596.43 643.7) rotate(-50)" text-anchor="end" font-size="22.6" font-family="'Liberation Sans', Arial, Helvetica, sans-serif" dy="0.72em">LUSC</text><path d="M626.62 634.4V640.4" stroke="#000" stroke-width="2.4"/><text transform="translate(626.62 643.7) rotate(-50)" text-anchor="end" font-size="22.6" font-family="'Liberation Sans', Arial, Helvetica, sans-serif" dy="0.72em">MESO</text><path d="M656.81 634.4V640.4" stroke="#000" stroke-width="2.4"/><text transform="translate(656.81 643.7) rotate(-50)" text-anchor="end" font-size="22.6" font-family="'Liberation Sans', Arial, Helvetica, sans-serif" dy="0.72em">OV</text><path d="M687 634.4V640.4" stroke="#000" stroke-width="2.4"/><text transform="translate(687 643.7) rotate(-50)" text-anchor="end" font-size="22.6" font-family="'Liberation Sans', Arial, Helvetica, sans-serif" dy="0.72em">PAAD</text><path d="M717.19 634.4V640.4" stroke="#000" stroke-width="2.4"/><text transform="translate(717.19 643.7) rotate(-50)" text-anchor="end" font-size="22.6" font-family="'Liberation Sans', Arial, Helvetica, sans-serif" dy="0.72em">PCPG</text><path d="M747.38 634.4V640.4" stroke="#000" stroke-width="2.4"/><text transform="translate(747.38 643.7) rotate(-50)" text-anchor="end" font-size="22.6" font-family="'Liberation Sans', Arial, Helvetica, sans-serif" dy="0.72em">PRAD</text><path d="M777.57 634.4V640.4" stroke="#000" stroke-width="2.4"/><text transform="translate(777.57 643.7) rotate(-50)" text-anchor="end" font-size="22.6" font-family="'Liberation Sans', Arial, Helvetica, sans-serif" dy="0.72em">READ</text><path d="M807.76 634.4V640.4" stroke="#000" stroke-width="2.4"/><text transform="translate(807.76 643.7) rotate(-50)" text-anchor="end" font-size="22.6" font-family="'Liberation Sans', Arial, Helvetica, sans-serif" dy="0.72em">SARC</text><path d="M837.95 634.4V640.4" stroke="#000" stroke-width="2.4"/><text transform="translate(837.95 643.7) rotate(-50)" text-anchor="end" font-size="22.6" font-family="'Liberation Sans', Arial, Helvetica, sans-serif" dy="0.72em">SKCM</text><path d="M868.14 634.4V640.4" stroke="#000" stroke-width="2.4"/><text transform="translate(868.14 643.7) rotate(-50)" text-anchor="end" font-size="22.6" font-family="'Liberation Sans', Arial, Helvetica, sans-serif" dy="0.72em">STAD</text><path d="M898.33 634.4V640.4" stroke="#000" stroke-width="2.4"/><text transform="translate(898.33 643.7) rotate(-50)" text-anchor="end" font-size="22.6" font-family="'Liberation Sans', Arial, Helvetica, sans-serif" dy="0.72em">TGCT</text><path d="M928.52 634.4V640.4" stroke="#000" stroke-width="2.4"/><text transform="translate(928.52 643.7) rotate(-50)" text-anchor="end" font-size="22.6" font-family="'Liberation Sans', Arial, Helvetica, sans-serif" dy="0.72em">THCA</text><path d="M958.71 634.4V640.4" stroke="#000" stroke-width="2.4"/><text transform="translate(958.71 643.7) rotate(-50)" text-anchor="end" font-size="22.6" font-family="'Liberation Sans', Arial, Helvetica, sans-serif" dy="0.72em">THYM</text><path d="M988.9 634.4V640.4" stroke="#000" stroke-width="2.4"/><text transform="translate(988.9 643.7) rotate(-50)" text-anchor="end" font-size="22.6" font-family="'Liberation Sans', Arial, Helvetica, sans-serif" dy="0.72em">UCEC</text><path d="M1019.09 634.4V640.4" stroke="#000" stroke-width="2.4"/><text transform="translate(1019.09 643.7) rotate(-50)" text-anchor="end" font-size="22.6" font-family="'Liberation Sans', Arial, Helvetica, sans-serif" dy="0.72em">UCS</text><path d="M1049.28 634.4V640.4" stroke="#000" stroke-width="2.4"/><text transform="translate(1049.28 643.7) rotate(-50)" text-anchor="end" font-size="22.6" font-family="'Liberation Sans', Arial, Helvetica, sans-serif" dy="0.72em">UVM</text><text transform="translate(18.5 362.5) rotate(-90)" text-anchor="middle" font-size="22.6" font-family="'Liberation Sans', Arial, Helvetica, sans-serif">S100A9 expression</text><text x="5.5" y="47" font-size="45" font-weight="bold" font-family="'Liberation Serif', 'Times New Roman', serif">(a)</text><text x="430.5" y="46.1" font-size="21.6" font-family="'Liberation Sans', Arial, Helvetica, sans-serif">Type</text><path d="M505.7 24.2V29.5M505.7 46.9V52.2" stroke="#187F18" stroke-width="2.1"/><rect x="493.7" y="29.5" width="24" height="17.4" fill="#fff" stroke="#187F18" stroke-width="2.1"/><path d="M493.7 38.2H517.7" stroke="#187F18" stroke-width="2.1"/><text x="533.4" y="45" font-size="18.9" font-family="'Liberation Sans', Arial, Helvetica, sans-serif">Normal</text><path d="M622 24.2V29.5M622 46.9V52.2" stroke="#7C0000" stroke-width="2.1"/><rect x="610" y="29.5" width="24" height="17.4" fill="#fff" stroke="#7C0000" stroke-width="2.1"/><path d="M610 38.2H634" stroke="#7C0000" stroke-width="2.1"/><text x="649.7" y="45" font-size="18.9" font-family="'Liberation Sans', Arial, Helvetica, sans-serif">Tumor</text><path d="M83.2 1078.2V1096.4M83.2 1113.1V1132.4" stroke="#E8536B" stroke-width="2.35"/><rect x="74.15" y="1096.4" width="18.1" height="16.7" fill="#fff" stroke="#E8536B" stroke-width="2.35"/><path d="M74.15 1106.1H92.25" stroke="#E8536B" stroke-width="4.4"/><circle cx="83.2" cy="964.9" r="4.2" fill="#E8536B"/><circle cx="83.2" cy="1040.5" r="4.2" fill="#E8536B"/><circle cx="83.2" cy="1053" r="4.2" fill="#E8536B"/><circle cx="83.2" cy="1064.6" r="4.2" fill="#E8536B"/><circle cx="83.2" cy="1067.3" r="4.2" fill="#E8536B"/><circle cx="83.2" cy="1070.4" r="4.2" fill="#E8536B"/><path d="M107.35 892V958M107.35 1030.9V1056.8" stroke="#2A2E7E" stroke-width="2.35"/><rect x="102.82" y="958" width="9.06" height="72.9" fill="#fff" stroke="#2A2E7E" stroke-width="2.35"/><path d="M102.82 976.6H111.88" stroke="#2A2E7E" stroke-width="4.4"/><path d="M119.43 890.1V943.2M119.43 980.4V1031.6" stroke="#E8536B" stroke-width="2.35"/><rect x="114.9" y="943.2" width="9.06" height="37.2" fill="#fff" stroke="#E8536B" stroke-width="2.35"/><path d="M114.9 962.6H123.96" stroke="#E8536B" stroke-width="4.4"/><circle cx="119.43" cy="1037.4" r="4.2" fill="#E8536B"/><circle cx="119.43" cy="1042.5" r="4.2" fill="#E8536B"/><circle cx="119.43" cy="1050.2" r="4.2" fill="#E8536B"/><path d="M137.54 987V1002.5M137.54 1016.1V1021.9" stroke="#2A2E7E" stroke-width="2.35"/><rect x="133.01" y="1002.5" width="9.06" height="13.6" fill="#fff" stroke="#2A2E7E" stroke-width="2.35"/><path d="M133.01 1008.4H142.07" stroke="#2A2E7E" stroke-width="4.4"/><circle cx="137.54" cy="977.3" r="4.2" fill="#2A2E7E"/><circle cx="137.54" cy="1038.6" r="4.2" fill="#2A2E7E"/><circle cx="137.54" cy="1042" r="4.2" fill="#2A2E7E"/><circle cx="137.54" cy="1045.4" r="4.2" fill="#2A2E7E"/><circle cx="137.54" cy="1048.8" r="4.2" fill="#2A2E7E"/><circle cx="137.54" cy="1052.2" r="4.2" fill="#2A2E7E"/><circle cx="137.54" cy="1055.6" r="4.2" fill="#2A2E7E"/><path d="M149.62 963.8V1012.2M149.62 1038.2V1062.7" stroke="#E8536B" stroke-width="2.35"/><rect x="145.09" y="1012.2" width="9.06" height="26" fill="#fff" stroke="#E8536B" stroke-width="2.35"/><path d="M145.09 1025.8H154.15" stroke="#E8536B" stroke-width="4.4"/><circle cx="149.62" cy="895.9" r="4.2" fill="#E8536B"/><circle cx="149.62" cy="899.3" r="4.2" fill="#E8536B"/><circle cx="149.62" cy="902.7" r="4.2" fill="#E8536B"/><circle cx="149.62" cy="906.1" r="4.2" fill="#E8536B"/><circle cx="149.62" cy="909.5" r="4.2" fill="#E8536B"/><circle cx="149.62" cy="912.9" r="4.2" fill="#E8536B"/><circle cx="149.62" cy="916.3" r="4.2" fill="#E8536B"/><circle cx="149.62" cy="919.7" r="4.2" fill="#E8536B"/><circle cx="149.62" cy="923.1" r="4.2" fill="#E8536B"/><circle cx="149.62" cy="926.5" r="4.2" fill="#E8536B"/><circle cx="149.62" cy="929.9" r="4.2" fill="#E8536B"/><circle cx="149.62" cy="933.3" r="4.2" fill="#E8536B"/><circle cx="149.62" cy="936.7" r="4.2" fill="#E8536B"/><circle cx="149.62" cy="940.1" r="4.2" fill="#E8536B"/><circle cx="149.62" cy="943.5" r="4.2" fill="#E8536B"/><circle cx="149.62" cy="946.9" r="4.2" fill="#E8536B"/><circle cx="149.62" cy="950.3" r="4.2" fill="#E8536B"/><circle cx="149.62" cy="953.7" r="4.2" fill="#E8536B"/><circle cx="149.62" cy="957.1" r="4.2" fill="#E8536B"/><path d="M167.73 992.1V1016.9M167.73 1047.9V1051.8" stroke="#2A2E7E" stroke-width="2.35"/><rect x="163.2" y="1016.9" width="9.06" height="31" fill="#fff" stroke="#2A2E7E" stroke-width="2.35"/><path d="M163.2 1041.3H172.26" stroke="#2A2E7E" stroke-width="4.4"/><path d="M179.81 885.4V905.6M179.81 965.7V1042.5" stroke="#E8536B" stroke-width="2.35"/><rect x="175.28" y="905.6" width="9.06" height="60.1" fill="#fff" stroke="#E8536B" stroke-width="2.35"/><path d="M175.28 921.1H184.34" stroke="#E8536B" stroke-width="4.4"/><path d="M197.92 1114.2V1121.6M197.92 1133.2V1138.3" stroke="#2A2E7E" stroke-width="2.35"/><rect x="193.39" y="1121.6" width="9.06" height="11.6" fill="#fff" stroke="#2A2E7E" stroke-width="2.35"/><path d="M193.39 1127.8H202.45" stroke="#2A2E7E" stroke-width="4.4"/><circle cx="197.92" cy="1104.1" r="4.2" fill="#2A2E7E"/><path d="M210 1036.3V1071.2M210 1104.1V1121.6" stroke="#E8536B" stroke-width="2.35"/><rect x="205.47" y="1071.2" width="9.06" height="32.9" fill="#fff" stroke="#E8536B" stroke-width="2.35"/><path d="M205.47 1093.7H214.53" stroke="#E8536B" stroke-width="4.4"/><circle cx="210" cy="971.5" r="4.2" fill="#E8536B"/><circle cx="210" cy="1004.5" r="4.2" fill="#E8536B"/><path d="M228.11 1039.4V1043.3M228.11 1049.1V1054.1" stroke="#2A2E7E" stroke-width="2.35"/><rect x="223.58" y="1043.3" width="9.06" height="5.8" fill="#fff" stroke="#2A2E7E" stroke-width="2.35"/><path d="M223.58 1046H232.64" stroke="#2A2E7E" stroke-width="4.4"/><circle cx="228.11" cy="1032.4" r="4.2" fill="#2A2E7E"/><circle cx="228.11" cy="1064.6" r="4.2" fill="#2A2E7E"/><path d="M240.19 996.7V1016.9M240.19 1032.8V1056.8" stroke="#E8536B" stroke-width="2.35"/><rect x="235.66" y="1016.9" width="9.06" height="15.9" fill="#fff" stroke="#E8536B" stroke-width="2.35"/><path d="M235.66 1025.8H244.72" stroke="#E8536B" stroke-width="4.4"/><circle cx="240.19" cy="897.1" r="4.2" fill="#E8536B"/><circle cx="240.19" cy="963.8" r="4.2" fill="#E8536B"/><circle cx="240.19" cy="968" r="4.2" fill="#E8536B"/><circle cx="240.19" cy="972" r="4.2" fill="#E8536B"/><circle cx="240.19" cy="976" r="4.2" fill="#E8536B"/><circle cx="240.19" cy="980" r="4.2" fill="#E8536B"/><circle cx="240.19" cy="985" r="4.2" fill="#E8536B"/><circle cx="240.19" cy="989" r="4.2" fill="#E8536B"/><path d="M264.34 1116.9V1171.2M264.34 1215.8V1248" stroke="#E8536B" stroke-width="2.35"/><rect x="255.29" y="1171.2" width="18.1" height="44.6" fill="#fff" stroke="#E8536B" stroke-width="2.35"/><path d="M255.29 1191.4H273.39" stroke="#E8536B" stroke-width="4.4"/><circle cx="264.34" cy="1081.3" r="4.2" fill="#E8536B"/><path d="M288.49 976.6V984.3M288.49 1039.4V1058" stroke="#2A2E7E" stroke-width="2.35"/><rect x="283.96" y="984.3" width="9.06" height="55.1" fill="#fff" stroke="#2A2E7E" stroke-width="2.35"/><path d="M283.96 1011.5H293.02" stroke="#2A2E7E" stroke-width="4.4"/><circle cx="288.49" cy="895.9" r="4.2" fill="#2A2E7E"/><path d="M300.57 890.1V911.4M300.57 1002.5V1039.4" stroke="#E8536B" stroke-width="2.35"/><rect x="296.04" y="911.4" width="9.06" height="91.1" fill="#fff" stroke="#E8536B" stroke-width="2.35"/><path d="M296.04 936.6H305.1" stroke="#E8536B" stroke-width="4.4"/><path d="M318.68 1211.9V1224.3M318.68 1244.9V1263.1" stroke="#2A2E7E" stroke-width="2.35"/><rect x="314.15" y="1224.3" width="9.06" height="20.6" fill="#fff" stroke="#2A2E7E" stroke-width="2.35"/><path d="M314.15 1231.3H323.21" stroke="#2A2E7E" stroke-width="4.4"/><path d="M330.76 1123.5V1175.1M330.76 1217.7V1254.6" stroke="#E8536B" stroke-width="2.35"/><rect x="326.23" y="1175.1" width="9.06" height="42.6" fill="#fff" stroke="#E8536B" stroke-width="2.35"/><path d="M326.23 1197.6H335.29" stroke="#E8536B" stroke-width="4.4"/><circle cx="330.76" cy="1095.6" r="4.2" fill="#E8536B"/><circle cx="330.76" cy="1108.4" r="4.2" fill="#E8536B"/><path d="M348.87 865.7V870.7M348.87 890.1V906.4" stroke="#2A2E7E" stroke-width="2.35"/><rect x="344.34" y="870.7" width="9.06" height="19.4" fill="#fff" stroke="#2A2E7E" stroke-width="2.35"/><path d="M344.34 876.5H353.4" stroke="#2A2E7E" stroke-width="4.4"/><circle cx="348.87" cy="925.8" r="4.2" fill="#2A2E7E"/><circle cx="348.87" cy="931.6" r="4.2" fill="#2A2E7E"/><circle cx="348.87" cy="956" r="4.2" fill="#2A2E7E"/><circle cx="348.87" cy="966.5" r="4.2" fill="#2A2E7E"/><circle cx="348.87" cy="975.4" r="4.2" fill="#2A2E7E"/><circle cx="348.87" cy="983.2" r="4.2" fill="#2A2E7E"/><circle cx="348.87" cy="990.9" r="4.2" fill="#2A2E7E"/><circle cx="348.87" cy="992.9" r="4.2" fill="#2A2E7E"/><circle cx="348.87" cy="1011.5" r="4.2" fill="#2A2E7E"/><path d="M360.95 861.8V874.6M360.95 901V907.6" stroke="#E8536B" stroke-width="2.35"/><rect x="356.42" y="874.6" width="9.06" height="26.4" fill="#fff" stroke="#E8536B" stroke-width="2.35"/><path d="M356.42 884.3H365.48" stroke="#E8536B" stroke-width="4.4"/><circle cx="360.95" cy="942.4" r="4.2" fill="#E8536B"/><circle cx="360.95" cy="946" r="4.2" fill="#E8536B"/><circle cx="360.95" cy="950" r="4.2" fill="#E8536B"/><circle cx="360.95" cy="954" r="4.2" fill="#E8536B"/><circle cx="360.95" cy="958" r="4.2" fill="#E8536B"/><circle cx="360.95" cy="965.7" r="4.2" fill="#E8536B"/><circle cx="360.95" cy="987" r="4.2" fill="#E8536B"/><circle cx="360.95" cy="990.9" r="4.2" fill="#E8536B"/><circle cx="360.95" cy="1008.4" r="4.2" fill="#E8536B"/><circle cx="360.95" cy="1014.2" r="4.2" fill="#E8536B"/><circle cx="360.95" cy="1020" r="4.2" fill="#E8536B"/><circle cx="360.95" cy="1028.5" r="4.2" fill="#E8536B"/><path d="M379.06 1158.8V1194.5M379.06 1232.5V1270.1" stroke="#2A2E7E" stroke-width="2.35"/><rect x="374.53" y="1194.5" width="9.06" height="38" fill="#fff" stroke="#2A2E7E" stroke-width="2.35"/><path d="M374.53 1215.8H383.59" stroke="#2A2E7E" stroke-width="4.4"/><path d="M391.14 1179V1216.6M391.14 1249.9V1282.5" stroke="#E8536B" stroke-width="2.35"/><rect x="386.61" y="1216.6" width="9.06" height="33.3" fill="#fff" stroke="#E8536B" stroke-width="2.35"/><path d="M386.61 1234.4H395.67" stroke="#E8536B" stroke-width="4.4"/><circle cx="391.14" cy="1115" r="4.2" fill="#E8536B"/><circle cx="391.14" cy="1133.6" r="4.2" fill="#E8536B"/><circle cx="391.14" cy="1166.6" r="4.2" fill="#E8536B"/><path d="M409.25 1097.5V1120.8M409.25 1138.3V1151.8" stroke="#2A2E7E" stroke-width="2.35"/><rect x="404.72" y="1120.8" width="9.06" height="17.5" fill="#fff" stroke="#2A2E7E" stroke-width="2.35"/><path d="M404.72 1129.3H413.78" stroke="#2A2E7E" stroke-width="4.4"/><circle cx="409.25" cy="992.9" r="4.2" fill="#2A2E7E"/><circle cx="409.25" cy="1072.3" r="4.2" fill="#2A2E7E"/><circle cx="409.25" cy="1087" r="4.2" fill="#2A2E7E"/><circle cx="409.25" cy="1091" r="4.2" fill="#2A2E7E"/><path d="M421.33 1066.5V1109.2M421.33 1137.5V1160.4" stroke="#E8536B" stroke-width="2.35"/><rect x="416.8" y="1109.2" width="9.06" height="28.3" fill="#fff" stroke="#E8536B" stroke-width="2.35"/><path d="M416.8 1124.7H425.86" stroke="#E8536B" stroke-width="4.4"/><circle cx="421.33" cy="1015.3" r="4.2" fill="#E8536B"/><circle cx="421.33" cy="1037.4" r="4.2" fill="#E8536B"/><circle cx="421.33" cy="1040.9" r="4.2" fill="#E8536B"/><circle cx="421.33" cy="1044.4" r="4.2" fill="#E8536B"/><circle cx="421.33" cy="1047.9" r="4.2" fill="#E8536B"/><circle cx="421.33" cy="1051.4" r="4.2" fill="#E8536B"/><circle cx="421.33" cy="1054.9" r="4.2" fill="#E8536B"/><circle cx="421.33" cy="1058.4" r="4.2" fill="#E8536B"/><circle cx="421.33" cy="1061.9" r="4.2" fill="#E8536B"/><path d="M439.44 1049.1V1056.8M439.44 1067.7V1077.4" stroke="#2A2E7E" stroke-width="2.35"/><rect x="434.91" y="1056.8" width="9.06" height="10.9" fill="#fff" stroke="#2A2E7E" stroke-width="2.35"/><path d="M434.91 1061.9H443.97" stroke="#2A2E7E" stroke-width="4.4"/><circle cx="439.44" cy="1036.7" r="4.2" fill="#2A2E7E"/><path d="M451.52 1033.6V1053M451.52 1066.5V1085.9" stroke="#E8536B" stroke-width="2.35"/><rect x="446.99" y="1053" width="9.06" height="13.5" fill="#fff" stroke="#E8536B" stroke-width="2.35"/><path d="M446.99 1059.5H456.05" stroke="#E8536B" stroke-width="4.4"/><circle cx="451.52" cy="919.2" r="4.2" fill="#E8536B"/><circle cx="451.52" cy="956" r="4.2" fill="#E8536B"/><circle cx="451.52" cy="959.9" r="4.2" fill="#E8536B"/><circle cx="451.52" cy="972.7" r="4.2" fill="#E8536B"/><circle cx="451.52" cy="999.8" r="4.2" fill="#E8536B"/><circle cx="451.52" cy="1015.3" r="4.2" fill="#E8536B"/><circle cx="451.52" cy="1020" r="4.2" fill="#E8536B"/><circle cx="451.52" cy="1027.8" r="4.2" fill="#E8536B"/><path d="M475.67 1130.5V1175.1M475.67 1226.3V1297.2" stroke="#E8536B" stroke-width="2.35"/><rect x="466.62" y="1175.1" width="18.1" height="51.2" fill="#fff" stroke="#E8536B" stroke-width="2.35"/><path d="M466.62 1200.3H484.72" stroke="#E8536B" stroke-width="4.4"/><path d="M505.86 1154.9V1191.4M505.86 1218.9V1240.2" stroke="#E8536B" stroke-width="2.35"/><rect x="496.81" y="1191.4" width="18.1" height="27.5" fill="#fff" stroke="#E8536B" stroke-width="2.35"/><path d="M496.81 1205.3H514.91" stroke="#E8536B" stroke-width="4.4"/><circle cx="505.86" cy="1073.5" r="4.2" fill="#E8536B"/><circle cx="505.86" cy="1085.9" r="4.2" fill="#E8536B"/><circle cx="505.86" cy="1089" r="4.2" fill="#E8536B"/><circle cx="505.86" cy="1117" r="4.2" fill="#E8536B"/><circle cx="505.86" cy="1124.7" r="4.2" fill="#E8536B"/><circle cx="505.86" cy="1130.5" r="4.2" fill="#E8536B"/><circle cx="505.86" cy="1136.3" r="4.2" fill="#E8536B"/><circle cx="505.86" cy="1142.1" r="4.2" fill="#E8536B"/><circle cx="505.86" cy="1146" r="4.2" fill="#E8536B"/><circle cx="505.86" cy="1151" r="4.2" fill="#E8536B"/><path d="M530.01 1081.3V1098.3M530.01 1121.6V1137.1" stroke="#2A2E7E" stroke-width="2.35"/><rect x="525.48" y="1098.3" width="9.06" height="23.3" fill="#fff" stroke="#2A2E7E" stroke-width="2.35"/><path d="M525.48 1111.1H534.54" stroke="#2A2E7E" stroke-width="4.4"/><circle cx="530.01" cy="983.2" r="4.2" fill="#2A2E7E"/><circle cx="530.01" cy="1000.6" r="4.2" fill="#2A2E7E"/><circle cx="530.01" cy="1056.1" r="4.2" fill="#2A2E7E"/><path d="M542.09 1060.7V1096.8M542.09 1123.5V1149.9" stroke="#E8536B" stroke-width="2.35"/><rect x="537.56" y="1096.8" width="9.06" height="26.7" fill="#fff" stroke="#E8536B" stroke-width="2.35"/><path d="M537.56 1110H546.62" stroke="#E8536B" stroke-width="4.4"/><circle cx="542.09" cy="982.4" r="4.2" fill="#E8536B"/><circle cx="542.09" cy="1003.7" r="4.2" fill="#E8536B"/><circle cx="542.09" cy="1025.8" r="4.2" fill="#E8536B"/><circle cx="542.09" cy="1029.3" r="4.2" fill="#E8536B"/><circle cx="542.09" cy="1032.8" r="4.2" fill="#E8536B"/><circle cx="542.09" cy="1036.3" r="4.2" fill="#E8536B"/><circle cx="542.09" cy="1039.8" r="4.2" fill="#E8536B"/><circle cx="542.09" cy="1043.3" r="4.2" fill="#E8536B"/><circle cx="542.09" cy="1046.8" r="4.2" fill="#E8536B"/><circle cx="542.09" cy="1050.3" r="4.2" fill="#E8536B"/><circle cx="542.09" cy="1053.8" r="4.2" fill="#E8536B"/><path d="M560.2 1012V1025.8M560.2 1035.5V1046.4" stroke="#2A2E7E" stroke-width="2.35"/><rect x="555.67" y="1025.8" width="9.06" height="9.7" fill="#fff" stroke="#2A2E7E" stroke-width="2.35"/><path d="M555.67 1030.9H564.73" stroke="#2A2E7E" stroke-width="4.4"/><circle cx="560.2" cy="1006" r="4.2" fill="#2A2E7E"/><path d="M572.28 963.8V1003.3M572.28 1030.5V1062.6" stroke="#E8536B" stroke-width="2.35"/><rect x="567.75" y="1003.3" width="9.06" height="27.2" fill="#fff" stroke="#E8536B" stroke-width="2.35"/><path d="M567.75 1016.9H576.81" stroke="#E8536B" stroke-width="4.4"/><circle cx="572.28" cy="895.1" r="4.2" fill="#E8536B"/><circle cx="572.28" cy="899" r="4.2" fill="#E8536B"/><circle cx="572.28" cy="904.5" r="4.2" fill="#E8536B"/><circle cx="572.28" cy="925" r="4.2" fill="#E8536B"/><circle cx="572.28" cy="939.3" r="4.2" fill="#E8536B"/><circle cx="572.28" cy="946.3" r="4.2" fill="#E8536B"/><circle cx="572.28" cy="958" r="4.2" fill="#E8536B"/><path d="M590.39 1006.4V1014.2M590.39 1022.7V1032.4" stroke="#2A2E7E" stroke-width="2.35"/><rect x="585.86" y="1014.2" width="9.06" height="8.5" fill="#fff" stroke="#2A2E7E" stroke-width="2.35"/><path d="M585.86 1018.8H594.92" stroke="#2A2E7E" stroke-width="4.4"/><circle cx="590.39" cy="976.6" r="4.2" fill="#2A2E7E"/><circle cx="590.39" cy="992.9" r="4.2" fill="#2A2E7E"/><circle cx="590.39" cy="997.5" r="4.2" fill="#2A2E7E"/><path d="M602.47 888.2V912.2M602.47 956V1014" stroke="#E8536B" stroke-width="2.35"/><rect x="597.94" y="912.2" width="9.06" height="43.8" fill="#fff" stroke="#E8536B" stroke-width="2.35"/><path d="M597.94 931.6H607" stroke="#E8536B" stroke-width="4.4"/><circle cx="602.47" cy="1019" r="4.2" fill="#E8536B"/><circle cx="602.47" cy="1022.5" r="4.2" fill="#E8536B"/><circle cx="602.47" cy="1026" r="4.2" fill="#E8536B"/><circle cx="602.47" cy="1029.5" r="4.2" fill="#E8536B"/><circle cx="602.47" cy="1033" r="4.2" fill="#E8536B"/><circle cx="602.47" cy="1036.5" r="4.2" fill="#E8536B"/><circle cx="602.47" cy="1040" r="4.2" fill="#E8536B"/><circle cx="602.47" cy="1043.5" r="4.2" fill="#E8536B"/><circle cx="602.47" cy="1047" r="4.2" fill="#E8536B"/><circle cx="602.47" cy="1050.5" r="4.2" fill="#E8536B"/><circle cx="602.47" cy="1054" r="4.2" fill="#E8536B"/><path d="M626.62 977.3V1041.3M626.62 1084.7V1144.1" stroke="#E8536B" stroke-width="2.35"/><rect x="617.57" y="1041.3" width="18.1" height="43.4" fill="#fff" stroke="#E8536B" stroke-width="2.35"/><path d="M617.57 1064.6H635.67" stroke="#E8536B" stroke-width="4.4"/><path d="M656.81 983.2V1035.5M656.81 1073.5V1128.6" stroke="#E8536B" stroke-width="2.35"/><rect x="647.76" y="1035.5" width="18.1" height="38" fill="#fff" stroke="#E8536B" stroke-width="2.35"/><path d="M647.76 1051.8H665.86" stroke="#E8536B" stroke-width="4.4"/><circle cx="656.81" cy="959.9" r="4.2" fill="#E8536B"/><circle cx="656.81" cy="965.7" r="4.2" fill="#E8536B"/><path d="M680.96 1027.8V1028.5M680.96 1041.3V1042" stroke="#2A2E7E" stroke-width="2.35"/><rect x="676.43" y="1028.5" width="9.06" height="12.8" fill="#fff" stroke="#2A2E7E" stroke-width="2.35"/><path d="M676.43 1040H685.49" stroke="#2A2E7E" stroke-width="4.4"/><circle cx="680.96" cy="999.8" r="4.2" fill="#2A2E7E"/><path d="M693.04 944.4V989M693.04 1020V1050.2" stroke="#E8536B" stroke-width="2.35"/><rect x="688.51" y="989" width="9.06" height="31" fill="#fff" stroke="#E8536B" stroke-width="2.35"/><path d="M688.51 1002.5H697.57" stroke="#E8536B" stroke-width="4.4"/><circle cx="693.04" cy="925" r="4.2" fill="#E8536B"/><circle cx="693.04" cy="1068.5" r="4.2" fill="#E8536B"/><circle cx="693.04" cy="1074" r="4.2" fill="#E8536B"/><circle cx="693.04" cy="1081" r="4.2" fill="#E8536B"/><circle cx="693.04" cy="1085" r="4.2" fill="#E8536B"/><circle cx="693.04" cy="1089" r="4.2" fill="#E8536B"/><circle cx="693.04" cy="1093.7" r="4.2" fill="#E8536B"/><path d="M711.15 1262.3V1269.3M711.15 1283.7V1293.4" stroke="#2A2E7E" stroke-width="2.35"/><rect x="706.62" y="1269.3" width="9.06" height="14.4" fill="#fff" stroke="#2A2E7E" stroke-width="2.35"/><path d="M706.62 1277.1H715.68" stroke="#2A2E7E" stroke-width="4.4"/><path d="M723.23 1245.7V1290.3M723.23 1323.6V1358.1" stroke="#E8536B" stroke-width="2.35"/><rect x="718.7" y="1290.3" width="9.06" height="33.3" fill="#fff" stroke="#E8536B" stroke-width="2.35"/><path d="M718.7 1305H727.76" stroke="#E8536B" stroke-width="4.4"/><circle cx="723.23" cy="1189.8" r="4.2" fill="#E8536B"/><circle cx="723.23" cy="1215.8" r="4.2" fill="#E8536B"/><circle cx="723.23" cy="1219.7" r="4.2" fill="#E8536B"/><path d="M741.34 979.3V1007.2M741.34 1033.6V1052.2" stroke="#2A2E7E" stroke-width="2.35"/><rect x="736.81" y="1007.2" width="9.06" height="26.4" fill="#fff" stroke="#2A2E7E" stroke-width="2.35"/><path d="M736.81 1025.8H745.87" stroke="#2A2E7E" stroke-width="4.4"/><circle cx="741.34" cy="933.5" r="4.2" fill="#2A2E7E"/><circle cx="741.34" cy="955.2" r="4.2" fill="#2A2E7E"/><circle cx="741.34" cy="1081.3" r="4.2" fill="#2A2E7E"/><path d="M753.42 989V1030.9M753.42 1059.5V1101.4" stroke="#E8536B" stroke-width="2.35"/><rect x="748.89" y="1030.9" width="9.06" height="28.6" fill="#fff" stroke="#E8536B" stroke-width="2.35"/><path d="M748.89 1045.2H757.95" stroke="#E8536B" stroke-width="4.4"/><circle cx="753.42" cy="959.9" r="4.2" fill="#E8536B"/><circle cx="753.42" cy="971.5" r="4.2" fill="#E8536B"/><circle cx="753.42" cy="981.2" r="4.2" fill="#E8536B"/><circle cx="753.42" cy="985" r="4.2" fill="#E8536B"/><path d="M771.53 1058.8V1073.1M771.53 1082V1084" stroke="#2A2E7E" stroke-width="2.35"/><rect x="767" y="1073.1" width="9.06" height="8.9" fill="#fff" stroke="#2A2E7E" stroke-width="2.35"/><path d="M767 1078.2H776.06" stroke="#2A2E7E" stroke-width="4.4"/><circle cx="771.53" cy="1115.8" r="4.2" fill="#2A2E7E"/><path d="M783.61 1005.3V1033.6M783.61 1057.6V1087.1" stroke="#E8536B" stroke-width="2.35"/><rect x="779.08" y="1033.6" width="9.06" height="24" fill="#fff" stroke="#E8536B" stroke-width="2.35"/><path d="M779.08 1046H788.14" stroke="#E8536B" stroke-width="4.4"/><circle cx="783.61" cy="948.3" r="4.2" fill="#E8536B"/><circle cx="783.61" cy="976.6" r="4.2" fill="#E8536B"/><circle cx="783.61" cy="989" r="4.2" fill="#E8536B"/><circle cx="783.61" cy="993" r="4.2" fill="#E8536B"/><circle cx="783.61" cy="998.7" r="4.2" fill="#E8536B"/><path d="M801.72 1088.5V1089M801.72 1091.5V1092" stroke="#2A2E7E" stroke-width="2.35"/><rect x="797.19" y="1089" width="9.06" height="2.5" fill="#fff" stroke="#2A2E7E" stroke-width="2.35"/><path d="M797.19 1090.3H806.25" stroke="#2A2E7E" stroke-width="4.4"/><path d="M813.8 1030.9V1067.3M813.8 1094.8V1122.7" stroke="#E8536B" stroke-width="2.35"/><rect x="809.27" y="1067.3" width="9.06" height="27.5" fill="#fff" stroke="#E8536B" stroke-width="2.35"/><path d="M809.27 1078.2H818.33" stroke="#E8536B" stroke-width="4.4"/><circle cx="813.8" cy="954.9" r="4.2" fill="#E8536B"/><circle cx="813.8" cy="985.9" r="4.2" fill="#E8536B"/><circle cx="813.8" cy="995.6" r="4.2" fill="#E8536B"/><circle cx="813.8" cy="1014.2" r="4.2" fill="#E8536B"/><circle cx="813.8" cy="1020" r="4.2" fill="#E8536B"/><path d="M831.91 1038.6V1039M831.91 1039.8V1040.2" stroke="#2A2E7E" stroke-width="2.35"/><rect x="827.38" y="1039" width="9.06" height="0.8" fill="#fff" stroke="#2A2E7E" stroke-width="2.35"/><path d="M827.38 1039.4H836.44" stroke="#2A2E7E" stroke-width="4.4"/><path d="M843.99 999.5V1028.5M843.99 1049.1V1062.6" stroke="#E8536B" stroke-width="2.35"/><rect x="839.46" y="1028.5" width="9.06" height="20.6" fill="#fff" stroke="#E8536B" stroke-width="2.35"/><path d="M839.46 1041.3H848.52" stroke="#E8536B" stroke-width="4.4"/><circle cx="843.99" cy="894.5" r="4.2" fill="#E8536B"/><circle cx="843.99" cy="897.7" r="4.2" fill="#E8536B"/><circle cx="843.99" cy="900.9" r="4.2" fill="#E8536B"/><circle cx="843.99" cy="904.1" r="4.2" fill="#E8536B"/><circle cx="843.99" cy="907.3" r="4.2" fill="#E8536B"/><circle cx="843.99" cy="910.5" r="4.2" fill="#E8536B"/><circle cx="843.99" cy="913.7" r="4.2" fill="#E8536B"/><circle cx="843.99" cy="916.9" r="4.2" fill="#E8536B"/><circle cx="843.99" cy="920.1" r="4.2" fill="#E8536B"/><circle cx="843.99" cy="923.3" r="4.2" fill="#E8536B"/><circle cx="843.99" cy="926.5" r="4.2" fill="#E8536B"/><circle cx="843.99" cy="929.7" r="4.2" fill="#E8536B"/><circle cx="843.99" cy="932.9" r="4.2" fill="#E8536B"/><circle cx="843.99" cy="936.1" r="4.2" fill="#E8536B"/><circle cx="843.99" cy="939.3" r="4.2" fill="#E8536B"/><circle cx="843.99" cy="942.5" r="4.2" fill="#E8536B"/><circle cx="843.99" cy="945.7" r="4.2" fill="#E8536B"/><circle cx="843.99" cy="948.9" r="4.2" fill="#E8536B"/><circle cx="843.99" cy="952.1" r="4.2" fill="#E8536B"/><circle cx="843.99" cy="955.3" r="4.2" fill="#E8536B"/><circle cx="843.99" cy="958.5" r="4.2" fill="#E8536B"/><circle cx="843.99" cy="961.7" r="4.2" fill="#E8536B"/><circle cx="843.99" cy="964.9" r="4.2" fill="#E8536B"/><circle cx="843.99" cy="968.1" r="4.2" fill="#E8536B"/><circle cx="843.99" cy="971.3" r="4.2" fill="#E8536B"/><circle cx="843.99" cy="974.5" r="4.2" fill="#E8536B"/><circle cx="843.99" cy="977.7" r="4.2" fill="#E8536B"/><circle cx="843.99" cy="980.9" r="4.2" fill="#E8536B"/><circle cx="843.99" cy="984.1" r="4.2" fill="#E8536B"/><circle cx="843.99" cy="987.3" r="4.2" fill="#E8536B"/><circle cx="843.99" cy="990.5" r="4.2" fill="#E8536B"/><circle cx="843.99" cy="993.7" r="4.2" fill="#E8536B"/><circle cx="843.99" cy="996.9" r="4.2" fill="#E8536B"/><path d="M862.1 1018V1023.9M862.1 1041.3V1061.9" stroke="#2A2E7E" stroke-width="2.35"/><rect x="857.57" y="1023.9" width="9.06" height="17.4" fill="#fff" stroke="#2A2E7E" stroke-width="2.35"/><path d="M857.57 1030.9H866.63" stroke="#2A2E7E" stroke-width="4.4"/><circle cx="862.1" cy="895" r="4.2" fill="#2A2E7E"/><circle cx="862.1" cy="897" r="4.2" fill="#2A2E7E"/><circle cx="862.1" cy="899" r="4.2" fill="#2A2E7E"/><circle cx="862.1" cy="901" r="4.2" fill="#2A2E7E"/><circle cx="862.1" cy="903" r="4.2" fill="#2A2E7E"/><circle cx="862.1" cy="944.2" r="4.2" fill="#2A2E7E"/><path d="M874.18 981V1007.6M874.18 1027V1054.1" stroke="#E8536B" stroke-width="2.35"/><rect x="869.65" y="1007.6" width="9.06" height="19.4" fill="#fff" stroke="#E8536B" stroke-width="2.35"/><path d="M869.65 1016.1H878.71" stroke="#E8536B" stroke-width="4.4"/><circle cx="874.18" cy="894" r="4.2" fill="#E8536B"/><circle cx="874.18" cy="897.4" r="4.2" fill="#E8536B"/><circle cx="874.18" cy="900.8" r="4.2" fill="#E8536B"/><circle cx="874.18" cy="904.2" r="4.2" fill="#E8536B"/><circle cx="874.18" cy="907.6" r="4.2" fill="#E8536B"/><circle cx="874.18" cy="911" r="4.2" fill="#E8536B"/><circle cx="874.18" cy="914.4" r="4.2" fill="#E8536B"/><circle cx="874.18" cy="917.8" r="4.2" fill="#E8536B"/><circle cx="874.18" cy="921.2" r="4.2" fill="#E8536B"/><circle cx="874.18" cy="924.6" r="4.2" fill="#E8536B"/><circle cx="874.18" cy="931.3" r="4.2" fill="#E8536B"/><circle cx="874.18" cy="942" r="4.2" fill="#E8536B"/><circle cx="874.18" cy="945.4" r="4.2" fill="#E8536B"/><circle cx="874.18" cy="948.8" r="4.2" fill="#E8536B"/><circle cx="874.18" cy="952.2" r="4.2" fill="#E8536B"/><circle cx="874.18" cy="955.6" r="4.2" fill="#E8536B"/><circle cx="874.18" cy="959" r="4.2" fill="#E8536B"/><circle cx="874.18" cy="962.4" r="4.2" fill="#E8536B"/><circle cx="874.18" cy="965.8" r="4.2" fill="#E8536B"/><circle cx="874.18" cy="969.2" r="4.2" fill="#E8536B"/><circle cx="874.18" cy="978.2" r="4.2" fill="#E8536B"/><path d="M898.33 1021.9V1039.4M898.33 1053.7V1069.6" stroke="#E8536B" stroke-width="2.35"/><rect x="889.28" y="1039.4" width="18.1" height="14.3" fill="#fff" stroke="#E8536B" stroke-width="2.35"/><path d="M889.28 1045.2H907.38" stroke="#E8536B" stroke-width="4.4"/><circle cx="898.33" cy="902.5" r="4.2" fill="#E8536B"/><circle cx="898.33" cy="946.3" r="4.2" fill="#E8536B"/><circle cx="898.33" cy="954.1" r="4.2" fill="#E8536B"/><circle cx="898.33" cy="971.5" r="4.2" fill="#E8536B"/><circle cx="898.33" cy="1000.6" r="4.2" fill="#E8536B"/><circle cx="898.33" cy="1005" r="4.2" fill="#E8536B"/><circle cx="898.33" cy="1009" r="4.2" fill="#E8536B"/><circle cx="898.33" cy="1013" r="4.2" fill="#E8536B"/><circle cx="898.33" cy="1017" r="4.2" fill="#E8536B"/><path d="M922.48 1063V1077M922.48 1087.9V1101.4" stroke="#2A2E7E" stroke-width="2.35"/><rect x="917.95" y="1077" width="9.06" height="10.9" fill="#fff" stroke="#2A2E7E" stroke-width="2.35"/><path d="M917.95 1082.8H927.01" stroke="#2A2E7E" stroke-width="4.4"/><circle cx="922.48" cy="1053" r="4.2" fill="#2A2E7E"/><circle cx="922.48" cy="1059.5" r="4.2" fill="#2A2E7E"/><path d="M934.56 1006.4V1046.4M934.56 1074.3V1099.5" stroke="#E8536B" stroke-width="2.35"/><rect x="930.03" y="1046.4" width="9.06" height="27.9" fill="#fff" stroke="#E8536B" stroke-width="2.35"/><path d="M930.03 1060.7H939.09" stroke="#E8536B" stroke-width="4.4"/><circle cx="934.56" cy="934.7" r="4.2" fill="#E8536B"/><circle cx="934.56" cy="957.2" r="4.2" fill="#E8536B"/><circle cx="934.56" cy="975.4" r="4.2" fill="#E8536B"/><circle cx="934.56" cy="981.2" r="4.2" fill="#E8536B"/><circle cx="934.56" cy="992.9" r="4.2" fill="#E8536B"/><circle cx="934.56" cy="1002.5" r="4.2" fill="#E8536B"/><path d="M952.67 1000.6V1009.1M952.67 1025V1032.8" stroke="#2A2E7E" stroke-width="2.35"/><rect x="948.14" y="1009.1" width="9.06" height="15.9" fill="#fff" stroke="#2A2E7E" stroke-width="2.35"/><path d="M948.14 1016.9H957.2" stroke="#2A2E7E" stroke-width="4.4"/><path d="M964.75 966.5V1005.3M964.75 1041.3V1067.3" stroke="#E8536B" stroke-width="2.35"/><rect x="960.22" y="1005.3" width="9.06" height="36" fill="#fff" stroke="#E8536B" stroke-width="2.35"/><path d="M960.22 1019.2H969.28" stroke="#E8536B" stroke-width="4.4"/><circle cx="964.75" cy="899.8" r="4.2" fill="#E8536B"/><circle cx="964.75" cy="931.6" r="4.2" fill="#E8536B"/><circle cx="964.75" cy="941.7" r="4.2" fill="#E8536B"/><path d="M982.86 1046.4V1056.8M982.86 1073.5V1081.3" stroke="#2A2E7E" stroke-width="2.35"/><rect x="978.33" y="1056.8" width="9.06" height="16.7" fill="#fff" stroke="#2A2E7E" stroke-width="2.35"/><path d="M978.33 1062.6H987.39" stroke="#2A2E7E" stroke-width="4.4"/><path d="M994.94 977.3V1013M994.94 1041.3V1073.5" stroke="#E8536B" stroke-width="2.35"/><rect x="990.41" y="1013" width="9.06" height="28.3" fill="#fff" stroke="#E8536B" stroke-width="2.35"/><path d="M990.41 1025.8H999.47" stroke="#E8536B" stroke-width="4.4"/><circle cx="994.94" cy="914" r="4.2" fill="#E8536B"/><circle cx="994.94" cy="927" r="4.2" fill="#E8536B"/><circle cx="994.94" cy="930.4" r="4.2" fill="#E8536B"/><circle cx="994.94" cy="933.8" r="4.2" fill="#E8536B"/><circle cx="994.94" cy="937.2" r="4.2" fill="#E8536B"/><circle cx="994.94" cy="940.6" r="4.2" fill="#E8536B"/><circle cx="994.94" cy="944" r="4.2" fill="#E8536B"/><circle cx="994.94" cy="947.4" r="4.2" fill="#E8536B"/><circle cx="994.94" cy="953.5" r="4.2" fill="#E8536B"/><circle cx="994.94" cy="956.9" r="4.2" fill="#E8536B"/><circle cx="994.94" cy="960.3" r="4.2" fill="#E8536B"/><circle cx="994.94" cy="963.7" r="4.2" fill="#E8536B"/><circle cx="994.94" cy="967.1" r="4.2" fill="#E8536B"/><circle cx="994.94" cy="970.5" r="4.2" fill="#E8536B"/><circle cx="994.94" cy="973.9" r="4.2" fill="#E8536B"/><path d="M1019.09 997.5V1033.6M1019.09 1079.3V1114.2" stroke="#E8536B" stroke-width="2.35"/><rect x="1010.04" y="1033.6" width="18.1" height="45.7" fill="#fff" stroke="#E8536B" stroke-width="2.35"/><path d="M1010.04 1062.6H1028.14" stroke="#E8536B" stroke-width="4.4"/><circle cx="1019.09" cy="947.1" r="4.2" fill="#E8536B"/><circle cx="1019.09" cy="959.1" r="4.2" fill="#E8536B"/><path d="M1049.28 1166.6V1187.5M1049.28 1206.1V1229.4" stroke="#E8536B" stroke-width="2.35"/><rect x="1040.23" y="1187.5" width="18.1" height="18.6" fill="#fff" stroke="#E8536B" stroke-width="2.35"/><path d="M1040.23 1197.6H1058.33" stroke="#E8536B" stroke-width="4.4"/><circle cx="1049.28" cy="1062.6" r="4.2" fill="#E8536B"/><circle cx="1049.28" cy="1120" r="4.2" fill="#E8536B"/><circle cx="1049.28" cy="1142.1" r="4.2" fill="#E8536B"/><circle cx="1049.28" cy="1146" r="4.2" fill="#E8536B"/><text x="113.79" y="859.5" text-anchor="middle" font-size="19" letter-spacing="0.8" stroke="#000" stroke-width="0.35" font-family="'Liberation Sans', Arial, Helvetica, sans-serif">*</text><text x="143.98" y="859.5" text-anchor="middle" font-size="19" letter-spacing="0.8" stroke="#000" stroke-width="0.35" font-family="'Liberation Sans', Arial, Helvetica, sans-serif">***</text><text x="174.17" y="859.5" text-anchor="middle" font-size="19" letter-spacing="0.8" stroke="#000" stroke-width="0.35" font-family="'Liberation Sans', Arial, Helvetica, sans-serif">**</text><text x="204.36" y="859.5" text-anchor="middle" font-size="19" letter-spacing="0.8" stroke="#000" stroke-width="0.35" font-family="'Liberation Sans', Arial, Helvetica, sans-serif">***</text><text x="234.55" y="859.5" text-anchor="middle" font-size="19" letter-spacing="0.8" stroke="#000" stroke-width="0.35" font-family="'Liberation Sans', Arial, Helvetica, sans-serif">***</text><text x="294.93" y="859.5" text-anchor="middle" font-size="19" letter-spacing="0.8" stroke="#000" stroke-width="0.35" font-family="'Liberation Sans', Arial, Helvetica, sans-serif">*</text><text x="325.12" y="859.5" text-anchor="middle" font-size="19" letter-spacing="0.8" stroke="#000" stroke-width="0.35" font-family="'Liberation Sans', Arial, Helvetica, sans-serif">**</text><text x="385.5" y="859.5" text-anchor="middle" font-size="19" letter-spacing="0.8" stroke="#000" stroke-width="0.35" font-family="'Liberation Sans', Arial, Helvetica, sans-serif">*</text><text x="415.69" y="859.5" text-anchor="middle" font-size="19" letter-spacing="0.8" stroke="#000" stroke-width="0.35" font-family="'Liberation Sans', Arial, Helvetica, sans-serif">*</text><text x="566.64" y="859.5" text-anchor="middle" font-size="19" letter-spacing="0.8" stroke="#000" stroke-width="0.35" font-family="'Liberation Sans', Arial, Helvetica, sans-serif">***</text><text x="596.83" y="859.5" text-anchor="middle" font-size="19" letter-spacing="0.8" stroke="#000" stroke-width="0.35" font-family="'Liberation Sans', Arial, Helvetica, sans-serif">***</text><text x="687.4" y="859.5" text-anchor="middle" font-size="19" letter-spacing="0.8" stroke="#000" stroke-width="0.35" font-family="'Liberation Sans', Arial, Helvetica, sans-serif">*</text><text x="717.59" y="859.5" text-anchor="middle" font-size="19" letter-spacing="0.8" stroke="#000" stroke-width="0.35" font-family="'Liberation Sans', Arial, Helvetica, sans-serif">*</text><text x="747.78" y="859.5" text-anchor="middle" font-size="19" letter-spacing="0.8" stroke="#000" stroke-width="0.35" font-family="'Liberation Sans', Arial, Helvetica, sans-serif">***</text><text x="777.97" y="859.5" text-anchor="middle" font-size="19" letter-spacing="0.8" stroke="#000" stroke-width="0.35" font-family="'Liberation Sans', Arial, Helvetica, sans-serif">***</text><text x="868.54" y="859.5" text-anchor="middle" font-size="19" letter-spacing="0.8" stroke="#000" stroke-width="0.35" font-family="'Liberation Sans', Arial, Helvetica, sans-serif">**</text><text x="928.92" y="859.5" text-anchor="middle" font-size="19" letter-spacing="0.8" stroke="#000" stroke-width="0.35" font-family="'Liberation Sans', Arial, Helvetica, sans-serif">***</text><text x="989.3" y="859.5" text-anchor="middle" font-size="19" letter-spacing="0.8" stroke="#000" stroke-width="0.35" font-family="'Liberation Sans', Arial, Helvetica, sans-serif">***</text><path d="M65.5 836.4V1382.4H1068" fill="none" stroke="#000" stroke-width="2.6" stroke-linejoin="miter" stroke-linecap="butt"/><path d="M59.5 1001.2H65.5" stroke="#000" stroke-width="2.4"/><text x="55.4" y="1009.4" text-anchor="end" font-size="22.8" font-family="'Liberation Sans', Arial, Helvetica, sans-serif">0</text><path d="M59.5 1168.55H65.5" stroke="#000" stroke-width="2.4"/><text x="55.4" y="1176.75" text-anchor="end" font-size="22.8" font-family="'Liberation Sans', Arial, Helvetica, sans-serif">−1</text><path d="M59.5 1335.9H65.5" stroke="#000" stroke-width="2.4"/><text x="55.4" y="1344.1" text-anchor="end" font-size="22.8" font-family="'Liberation Sans', Arial, Helvetica, sans-serif">−2</text><path d="M83.2 1382.4V1388.4" stroke="#000" stroke-width="2.4"/><text transform="translate(83.2 1391.7) rotate(-50)" text-anchor="end" font-size="22.6" font-family="'Liberation Sans', Arial, Helvetica, sans-serif" dy="0.72em">ACC</text><path d="M113.39 1382.4V1388.4" stroke="#000" stroke-width="2.4"/><text transform="translate(113.39 1391.7) rotate(-50)" text-anchor="end" font-size="22.6" font-family="'Liberation Sans', Arial, Helvetica, sans-serif" dy="0.72em">BLCA</text><path d="M143.58 1382.4V1388.4" stroke="#000" stroke-width="2.4"/><text transform="translate(143.58 1391.7) rotate(-50)" text-anchor="end" font-size="22.6" font-family="'Liberation Sans', Arial, Helvetica, sans-serif" dy="0.72em">BRCA</text><path d="M173.77 1382.4V1388.4" stroke="#000" stroke-width="2.4"/><text transform="translate(173.77 1391.7) rotate(-50)" text-anchor="end" font-size="22.6" font-family="'Liberation Sans', Arial, Helvetica, sans-serif" dy="0.72em">CESC</text><path d="M203.96 1382.4V1388.4" stroke="#000" stroke-width="2.4"/><text transform="translate(203.96 1391.7) rotate(-50)" text-anchor="end" font-size="22.6" font-family="'Liberation Sans', Arial, Helvetica, sans-serif" dy="0.72em">CHOL</text><path d="M234.15 1382.4V1388.4" stroke="#000" stroke-width="2.4"/><text transform="translate(234.15 1391.7) rotate(-50)" text-anchor="end" font-size="22.6" font-family="'Liberation Sans', Arial, Helvetica, sans-serif" dy="0.72em">COAD</text><path d="M264.34 1382.4V1388.4" stroke="#000" stroke-width="2.4"/><text transform="translate(264.34 1391.7) rotate(-50)" text-anchor="end" font-size="22.6" font-family="'Liberation Sans', Arial, Helvetica, sans-serif" dy="0.72em">DLBC</text><path d="M294.53 1382.4V1388.4" stroke="#000" stroke-width="2.4"/><text transform="translate(294.53 1391.7) rotate(-50)" text-anchor="end" font-size="22.6" font-family="'Liberation Sans', Arial, Helvetica, sans-serif" dy="0.72em">ESCA</text><path d="M324.72 1382.4V1388.4" stroke="#000" stroke-width="2.4"/><text transform="translate(324.72 1391.7) rotate(-50)" text-anchor="end" font-size="22.6" font-family="'Liberation Sans', Arial, Helvetica, sans-serif" dy="0.72em">GBM</text><path d="M354.91 1382.4V1388.4" stroke="#000" stroke-width="2.4"/><text transform="translate(354.91 1391.7) rotate(-50)" text-anchor="end" font-size="22.6" font-family="'Liberation Sans', Arial, Helvetica, sans-serif" dy="0.72em">HNSC</text><path d="M385.1 1382.4V1388.4" stroke="#000" stroke-width="2.4"/><text transform="translate(385.1 1391.7) rotate(-50)" text-anchor="end" font-size="22.6" font-family="'Liberation Sans', Arial, Helvetica, sans-serif" dy="0.72em">KICH</text><path d="M415.29 1382.4V1388.4" stroke="#000" stroke-width="2.4"/><text transform="translate(415.29 1391.7) rotate(-50)" text-anchor="end" font-size="22.6" font-family="'Liberation Sans', Arial, Helvetica, sans-serif" dy="0.72em">KIRC</text><path d="M445.48 1382.4V1388.4" stroke="#000" stroke-width="2.4"/><text transform="translate(445.48 1391.7) rotate(-50)" text-anchor="end" font-size="22.6" font-family="'Liberation Sans', Arial, Helvetica, sans-serif" dy="0.72em">KIRP</text><path d="M475.67 1382.4V1388.4" stroke="#000" stroke-width="2.4"/><text transform="translate(475.67 1391.7) rotate(-50)" text-anchor="end" font-size="22.6" font-family="'Liberation Sans', Arial, Helvetica, sans-serif" dy="0.72em">LAML</text><path d="M505.86 1382.4V1388.4" stroke="#000" stroke-width="2.4"/><text transform="translate(505.86 1391.7) rotate(-50)" text-anchor="end" font-size="22.6" font-family="'Liberation Sans', Arial, Helvetica, sans-serif" dy="0.72em">LGG</text><path d="M536.05 1382.4V1388.4" stroke="#000" stroke-width="2.4"/><text transform="translate(536.05 1391.7) rotate(-50)" text-anchor="end" font-size="22.6" font-family="'Liberation Sans', Arial, Helvetica, sans-serif" dy="0.72em">LIHC</text><path d="M566.24 1382.4V1388.4" stroke="#000" stroke-width="2.4"/><text transform="translate(566.24 1391.7) rotate(-50)" text-anchor="end" font-size="22.6" font-family="'Liberation Sans', Arial, Helvetica, sans-serif" dy="0.72em">LUAD</text><path d="M596.43 1382.4V1388.4" stroke="#000" stroke-width="2.4"/><text transform="translate(596.43 1391.7) rotate(-50)" text-anchor="end" font-size="22.6" font-family="'Liberation Sans', Arial, Helvetica, sans-serif" dy="0.72em">LUSC</text><path d="M626.62 1382.4V1388.4" stroke="#000" stroke-width="2.4"/><text transform="translate(626.62 1391.7) rotate(-50)" text-anchor="end" font-size="22.6" font-family="'Liberation Sans', Arial, Helvetica, sans-serif" dy="0.72em">MESO</text><path d="M656.81 1382.4V1388.4" stroke="#000" stroke-width="2.4"/><text transform="translate(656.81 1391.7) rotate(-50)" text-anchor="end" font-size="22.6" font-family="'Liberation Sans', Arial, Helvetica, sans-serif" dy="0.72em">OV</text><path d="M687 1382.4V1388.4" stroke="#000" stroke-width="2.4"/><text transform="translate(687 1391.7) rotate(-50)" text-anchor="end" font-size="22.6" font-family="'Liberation Sans', Arial, Helvetica, sans-serif" dy="0.72em">PAAD</text><path d="M717.19 1382.4V1388.4" stroke="#000" stroke-width="2.4"/><text transform="translate(717.19 1391.7) rotate(-50)" text-anchor="end" font-size="22.6" font-family="'Liberation Sans', Arial, Helvetica, sans-serif" dy="0.72em">PCPG</text><path d="M747.38 1382.4V1388.4" stroke="#000" stroke-width="2.4"/><text transform="translate(747.38 1391.7) rotate(-50)" text-anchor="end" font-size="22.6" font-family="'Liberation Sans', Arial, Helvetica, sans-serif" dy="0.72em">PRAD</text><path d="M777.57 1382.4V1388.4" stroke="#000" stroke-width="2.4"/><text transform="translate(777.57 1391.7) rotate(-50)" text-anchor="end" font-size="22.6" font-family="'Liberation Sans', Arial, Helvetica, sans-serif" dy="0.72em">READ</text><path d="M807.76 1382.4V1388.4" stroke="#000" stroke-width="2.4"/><text transform="translate(807.76 1391.7) rotate(-50)" text-anchor="end" font-size="22.6" font-family="'Liberation Sans', Arial, Helvetica, sans-serif" dy="0.72em">SARC</text><path d="M837.95 1382.4V1388.4" stroke="#000" stroke-width="2.4"/><text transform="translate(837.95 1391.7) rotate(-50)" text-anchor="end" font-size="22.6" font-family="'Liberation Sans', Arial, Helvetica, sans-serif" dy="0.72em">SKCM</text><path d="M868.14 1382.4V1388.4" stroke="#000" stroke-width="2.4"/><text transform="translate(868.14 1391.7) rotate(-50)" text-anchor="end" font-size="22.6" font-family="'Liberation Sans', Arial, Helvetica, sans-serif" dy="0.72em">STAD</text><path d="M898.33 1382.4V1388.4" stroke="#000" stroke-width="2.4"/><text transform="translate(898.33 1391.7) rotate(-50)" text-anchor="end" font-size="22.6" font-family="'Liberation Sans', Arial, Helvetica, sans-serif" dy="0.72em">TGCT</text><path d="M928.52 1382.4V1388.4" stroke="#000" stroke-width="2.4"/><text transform="translate(928.52 1391.7) rotate(-50)" text-anchor="end" font-size="22.6" font-family="'Liberation Sans', Arial, Helvetica, sans-serif" dy="0.72em">THCA</text><path d="M958.71 1382.4V1388.4" stroke="#000" stroke-width="2.4"/><text transform="translate(958.71 1391.7) rotate(-50)" text-anchor="end" font-size="22.6" font-family="'Liberation Sans', Arial, Helvetica, sans-serif" dy="0.72em">THYM</text><path d="M988.9 1382.4V1388.4" stroke="#000" stroke-width="2.4"/><text transform="translate(988.9 1391.7) rotate(-50)" text-anchor="end" font-size="22.6" font-family="'Liberation Sans', Arial, Helvetica, sans-serif" dy="0.72em">UCEC</text><path d="M1019.09 1382.4V1388.4" stroke="#000" stroke-width="2.4"/><text transform="translate(1019.09 1391.7) rotate(-50)" text-anchor="end" font-size="22.6" font-family="'Liberation Sans', Arial, Helvetica, sans-serif" dy="0.72em">UCS</text><path d="M1049.28 1382.4V1388.4" stroke="#000" stroke-width="2.4"/><text transform="translate(1049.28 1391.7) rotate(-50)" text-anchor="end" font-size="22.6" font-family="'Liberation Sans', Arial, Helvetica, sans-serif" dy="0.72em">UVM</text><text transform="translate(18.5 1110.4) rotate(-90)" text-anchor="middle" font-size="22.6" font-family="'Liberation Sans', Arial, Helvetica, sans-serif">S100A9_activity</text><text x="7.5" y="776" font-size="45" font-weight="bold" font-family="'Liberation Serif', 'Times New Roman', serif">(c)</text><text x="430.5" y="793.9" font-size="21.6" font-family="'Liberation Sans', Arial, Helvetica, sans-serif">Type</text><path d="M505.7 772V777.3M505.7 794.7V800" stroke="#2A2E7E" stroke-width="2.1"/><rect x="493.7" y="777.3" width="24" height="17.4" fill="#fff" stroke="#2A2E7E" stroke-width="2.1"/><path d="M493.7 786H517.7" stroke="#2A2E7E" stroke-width="2.1"/><text x="533.4" y="792.8" font-size="18.9" font-family="'Liberation Sans', Arial, Helvetica, sans-serif">Normal</text><path d="M622 772V777.3M622 794.7V800" stroke="#E8536B" stroke-width="2.1"/><rect x="610" y="777.3" width="24" height="17.4" fill="#fff" stroke="#E8536B" stroke-width="2.1"/><path d="M610 786H634" stroke="#E8536B" stroke-width="2.1"/><text x="649.7" y="792.8" font-size="18.9" font-family="'Liberation Sans', Arial, Helvetica, sans-serif">Tumor</text><path d="M1145.4 50V131.8M1145.4 236.8V390" stroke="#1A1A6E" stroke-width="1.7"/><rect x="1136.1" y="131.8" width="18.6" height="105" fill="#FF0000" stroke="#1A1A6E" stroke-width="1.7"/><path d="M1136.1 179H1154.7" stroke="#1A1A6E" stroke-width="2.8"/><circle cx="1145.4" cy="394.5" r="3" fill="#1A1A6E"/><circle cx="1145.4" cy="399" r="3" fill="#1A1A6E"/><circle cx="1145.4" cy="404.7" r="3" fill="#1A1A6E"/><circle cx="1145.4" cy="409.3" r="3" fill="#1A1A6E"/><circle cx="1145.4" cy="414" r="3" fill="#1A1A6E"/><circle cx="1145.4" cy="418.6" r="3" fill="#1A1A6E"/><circle cx="1145.4" cy="423.2" r="3" fill="#1A1A6E"/><circle cx="1145.4" cy="429.2" r="3" fill="#1A1A6E"/><circle cx="1145.4" cy="441.7" r="3" fill="#1A1A6E"/><circle cx="1145.4" cy="454.7" r="3" fill="#1A1A6E"/><circle cx="1145.4" cy="459.3" r="3" fill="#1A1A6E"/><circle cx="1145.4" cy="464.9" r="3" fill="#1A1A6E"/><path d="M1171.78 55.5V146.6M1171.78 326.5V587.4" stroke="#1A1A6E" stroke-width="1.7"/><rect x="1162.48" y="146.6" width="18.6" height="179.9" fill="#FF2E00" stroke="#1A1A6E" stroke-width="1.7"/><path d="M1162.48 211.8H1181.08" stroke="#1A1A6E" stroke-width="2.8"/><path d="M1198.16 44.9V217.4M1198.16 368.2V558.3" stroke="#1A1A6E" stroke-width="1.7"/><rect x="1188.86" y="217.4" width="18.6" height="150.8" fill="#FF5D00" stroke="#1A1A6E" stroke-width="1.7"/><path d="M1188.86 289.1H1207.46" stroke="#1A1A6E" stroke-width="2.8"/><path d="M1224.54 84.6V200.3M1224.54 426V585.1" stroke="#1A1A6E" stroke-width="1.7"/><rect x="1215.24" y="200.3" width="18.6" height="225.7" fill="#FF8B00" stroke="#1A1A6E" stroke-width="1.7"/><path d="M1215.24 299.3H1233.84" stroke="#1A1A6E" stroke-width="2.8"/><path d="M1250.92 37V224.3M1250.92 400.6V578.2" stroke="#1A1A6E" stroke-width="1.7"/><rect x="1241.62" y="224.3" width="18.6" height="176.3" fill="#FFB900" stroke="#1A1A6E" stroke-width="1.7"/><path d="M1241.62 307.6H1260.22" stroke="#1A1A6E" stroke-width="2.8"/><path d="M1277.3 165.6V248.8M1277.3 417.7V593" stroke="#1A1A6E" stroke-width="1.7"/><rect x="1268" y="248.8" width="18.6" height="168.9" fill="#FFE800" stroke="#1A1A6E" stroke-width="1.7"/><path d="M1268 326.5H1286.6" stroke="#1A1A6E" stroke-width="2.8"/><path d="M1303.68 161.9V303.9M1303.68 406.6V544.4" stroke="#1A1A6E" stroke-width="1.7"/><rect x="1294.38" y="303.9" width="18.6" height="102.7" fill="#E8FF00" stroke="#1A1A6E" stroke-width="1.7"/><path d="M1294.38 361.2H1312.98" stroke="#1A1A6E" stroke-width="2.8"/><circle cx="1303.68" cy="71.7" r="3" fill="#1A1A6E"/><circle cx="1303.68" cy="110.1" r="3" fill="#1A1A6E"/><circle cx="1303.68" cy="119.3" r="3" fill="#1A1A6E"/><circle cx="1303.68" cy="122.6" r="3" fill="#1A1A6E"/><circle cx="1303.68" cy="126.3" r="3" fill="#1A1A6E"/><path d="M1330.06 182.7V331.2M1330.06 445V566.6" stroke="#1A1A6E" stroke-width="1.7"/><rect x="1320.76" y="331.2" width="18.6" height="113.8" fill="#B9FF00" stroke="#1A1A6E" stroke-width="1.7"/><path d="M1320.76 401.9H1339.36" stroke="#1A1A6E" stroke-width="2.8"/><path d="M1356.44 292.8V387.1M1356.44 453.3V544.4" stroke="#1A1A6E" stroke-width="1.7"/><rect x="1347.14" y="387.1" width="18.6" height="66.2" fill="#8BFF00" stroke="#1A1A6E" stroke-width="1.7"/><path d="M1347.14 421.8H1365.74" stroke="#1A1A6E" stroke-width="2.8"/><circle cx="1356.44" cy="562.9" r="3" fill="#1A1A6E"/><path d="M1382.82 255.3V371.9M1382.82 469.5V580.5" stroke="#1A1A6E" stroke-width="1.7"/><rect x="1373.52" y="371.9" width="18.6" height="97.6" fill="#5DFF00" stroke="#1A1A6E" stroke-width="1.7"/><path d="M1373.52 425.5H1392.12" stroke="#1A1A6E" stroke-width="2.8"/><path d="M1409.2 316.8V405.6M1409.2 468.1V556" stroke="#1A1A6E" stroke-width="1.7"/><rect x="1399.9" y="405.6" width="18.6" height="62.5" fill="#2EFF00" stroke="#1A1A6E" stroke-width="1.7"/><path d="M1399.9 431.1H1418.5" stroke="#1A1A6E" stroke-width="2.8"/><circle cx="1409.2" cy="260" r="3" fill="#1A1A6E"/><circle cx="1409.2" cy="270.6" r="3" fill="#1A1A6E"/><circle cx="1409.2" cy="303.9" r="3" fill="#1A1A6E"/><circle cx="1409.2" cy="577.2" r="3" fill="#1A1A6E"/><circle cx="1409.2" cy="582.8" r="3" fill="#1A1A6E"/><circle cx="1409.2" cy="592" r="3" fill="#1A1A6E"/><path d="M1435.58 289.1V396.4M1435.58 469.5V575.9" stroke="#1A1A6E" stroke-width="1.7"/><rect x="1426.28" y="396.4" width="18.6" height="73.1" fill="#00FF00" stroke="#1A1A6E" stroke-width="1.7"/><path d="M1426.28 435.7H1444.88" stroke="#1A1A6E" stroke-width="2.8"/><circle cx="1435.58" cy="239.6" r="3" fill="#1A1A6E"/><circle cx="1435.58" cy="581.4" r="3" fill="#1A1A6E"/><path d="M1461.96 195.2V375.1M1461.96 497.2V608.2" stroke="#1A1A6E" stroke-width="1.7"/><rect x="1452.66" y="375.1" width="18.6" height="122.1" fill="#00FF2E" stroke="#1A1A6E" stroke-width="1.7"/><path d="M1452.66 437.1H1471.26" stroke="#1A1A6E" stroke-width="2.8"/><circle cx="1461.96" cy="144.8" r="3" fill="#1A1A6E"/><circle cx="1461.96" cy="149.4" r="3" fill="#1A1A6E"/><circle cx="1461.96" cy="155" r="3" fill="#1A1A6E"/><circle cx="1461.96" cy="160.5" r="3" fill="#1A1A6E"/><circle cx="1461.96" cy="165.1" r="3" fill="#1A1A6E"/><circle cx="1461.96" cy="179" r="3" fill="#1A1A6E"/><circle cx="1461.96" cy="184.1" r="3" fill="#1A1A6E"/><circle cx="1461.96" cy="189.6" r="3" fill="#1A1A6E"/><path d="M1488.34 313.6V402.4M1488.34 475.5V582.8" stroke="#1A1A6E" stroke-width="1.7"/><rect x="1479.04" y="402.4" width="18.6" height="73.1" fill="#00FF5D" stroke="#1A1A6E" stroke-width="1.7"/><path d="M1479.04 437.6H1497.64" stroke="#1A1A6E" stroke-width="2.8"/><circle cx="1488.34" cy="211.4" r="3" fill="#1A1A6E"/><circle cx="1488.34" cy="272.9" r="3" fill="#1A1A6E"/><circle cx="1488.34" cy="281.2" r="3" fill="#1A1A6E"/><circle cx="1488.34" cy="590.7" r="3" fill="#1A1A6E"/><circle cx="1488.34" cy="605.9" r="3" fill="#1A1A6E"/><path d="M1514.72 289.1V404.7M1514.72 486.6V585.1" stroke="#1A1A6E" stroke-width="1.7"/><rect x="1505.42" y="404.7" width="18.6" height="81.9" fill="#00FF8B" stroke="#1A1A6E" stroke-width="1.7"/><path d="M1505.42 443.1H1524.02" stroke="#1A1A6E" stroke-width="2.8"/><circle cx="1514.72" cy="88.8" r="3" fill="#1A1A6E"/><circle cx="1514.72" cy="118.9" r="3" fill="#1A1A6E"/><circle cx="1514.72" cy="128.1" r="3" fill="#1A1A6E"/><circle cx="1514.72" cy="131.8" r="3" fill="#1A1A6E"/><circle cx="1514.72" cy="147.1" r="3" fill="#1A1A6E"/><circle cx="1514.72" cy="155" r="3" fill="#1A1A6E"/><circle cx="1514.72" cy="164.2" r="3" fill="#1A1A6E"/><circle cx="1514.72" cy="174.8" r="3" fill="#1A1A6E"/><circle cx="1514.72" cy="209.1" r="3" fill="#1A1A6E"/><circle cx="1514.72" cy="233.6" r="3" fill="#1A1A6E"/><circle cx="1514.72" cy="238.2" r="3" fill="#1A1A6E"/><circle cx="1514.72" cy="249.8" r="3" fill="#1A1A6E"/><circle cx="1514.72" cy="255.8" r="3" fill="#1A1A6E"/><circle cx="1514.72" cy="266" r="3" fill="#1A1A6E"/><circle cx="1514.72" cy="279.8" r="3" fill="#1A1A6E"/><circle cx="1514.72" cy="623.5" r="3" fill="#1A1A6E"/><path d="M1541.1 235V384.8M1541.1 493.5V609.2" stroke="#1A1A6E" stroke-width="1.7"/><rect x="1531.8" y="384.8" width="18.6" height="108.7" fill="#00FFB9" stroke="#1A1A6E" stroke-width="1.7"/><path d="M1531.8 444H1550.4" stroke="#1A1A6E" stroke-width="2.8"/><circle cx="1541.1" cy="198.9" r="3" fill="#1A1A6E"/><circle cx="1541.1" cy="203.5" r="3" fill="#1A1A6E"/><circle cx="1541.1" cy="221.1" r="3" fill="#1A1A6E"/><path d="M1567.48 277.5V402.4M1567.48 489.4V606.8" stroke="#1A1A6E" stroke-width="1.7"/><rect x="1558.18" y="402.4" width="18.6" height="87" fill="#00FFE8" stroke="#1A1A6E" stroke-width="1.7"/><path d="M1558.18 453.3H1576.78" stroke="#1A1A6E" stroke-width="2.8"/><circle cx="1567.48" cy="212.8" r="3" fill="#1A1A6E"/><circle cx="1567.48" cy="254.4" r="3" fill="#1A1A6E"/><circle cx="1567.48" cy="261.3" r="3" fill="#1A1A6E"/><circle cx="1567.48" cy="268.3" r="3" fill="#1A1A6E"/><path d="M1593.86 338.6V427.8M1593.86 488V578.2" stroke="#1A1A6E" stroke-width="1.7"/><rect x="1584.56" y="427.8" width="18.6" height="60.2" fill="#00E8FF" stroke="#1A1A6E" stroke-width="1.7"/><path d="M1584.56 458.8H1603.16" stroke="#1A1A6E" stroke-width="2.8"/><circle cx="1593.86" cy="296" r="3" fill="#1A1A6E"/><circle cx="1593.86" cy="316.8" r="3" fill="#1A1A6E"/><circle cx="1593.86" cy="320" r="3" fill="#1A1A6E"/><circle cx="1593.86" cy="582.8" r="3" fill="#1A1A6E"/><circle cx="1593.86" cy="599" r="3" fill="#1A1A6E"/><circle cx="1593.86" cy="603.6" r="3" fill="#1A1A6E"/><path d="M1620.24 338.6V431.1M1620.24 494.9V585.1" stroke="#1A1A6E" stroke-width="1.7"/><rect x="1610.94" y="431.1" width="18.6" height="63.8" fill="#00B9FF" stroke="#1A1A6E" stroke-width="1.7"/><path d="M1610.94 466.2H1629.54" stroke="#1A1A6E" stroke-width="2.8"/><circle cx="1620.24" cy="216.5" r="3" fill="#1A1A6E"/><circle cx="1620.24" cy="299.7" r="3" fill="#1A1A6E"/><circle cx="1620.24" cy="304.3" r="3" fill="#1A1A6E"/><circle cx="1620.24" cy="333" r="3" fill="#1A1A6E"/><path d="M1646.62 277.5V421.8M1646.62 520.4V611.5" stroke="#1A1A6E" stroke-width="1.7"/><rect x="1637.32" y="421.8" width="18.6" height="98.6" fill="#008BFF" stroke="#1A1A6E" stroke-width="1.7"/><path d="M1637.32 469.5H1655.92" stroke="#1A1A6E" stroke-width="2.8"/><circle cx="1646.62" cy="96.2" r="3" fill="#1A1A6E"/><circle cx="1646.62" cy="122.6" r="3" fill="#1A1A6E"/><circle cx="1646.62" cy="143.4" r="3" fill="#1A1A6E"/><circle cx="1646.62" cy="148.9" r="3" fill="#1A1A6E"/><circle cx="1646.62" cy="157.3" r="3" fill="#1A1A6E"/><circle cx="1646.62" cy="164.2" r="3" fill="#1A1A6E"/><circle cx="1646.62" cy="170.2" r="3" fill="#1A1A6E"/><circle cx="1646.62" cy="175.8" r="3" fill="#1A1A6E"/><circle cx="1646.62" cy="181.8" r="3" fill="#1A1A6E"/><circle cx="1646.62" cy="187.3" r="3" fill="#1A1A6E"/><circle cx="1646.62" cy="193.3" r="3" fill="#1A1A6E"/><circle cx="1646.62" cy="198.9" r="3" fill="#1A1A6E"/><circle cx="1646.62" cy="203.5" r="3" fill="#1A1A6E"/><circle cx="1646.62" cy="209.1" r="3" fill="#1A1A6E"/><circle cx="1646.62" cy="213.7" r="3" fill="#1A1A6E"/><circle cx="1646.62" cy="219.7" r="3" fill="#1A1A6E"/><circle cx="1646.62" cy="225.3" r="3" fill="#1A1A6E"/><circle cx="1646.62" cy="231.3" r="3" fill="#1A1A6E"/><circle cx="1646.62" cy="235.9" r="3" fill="#1A1A6E"/><circle cx="1646.62" cy="241.4" r="3" fill="#1A1A6E"/><circle cx="1646.62" cy="247.5" r="3" fill="#1A1A6E"/><circle cx="1646.62" cy="253.5" r="3" fill="#1A1A6E"/><circle cx="1646.62" cy="259" r="3" fill="#1A1A6E"/><circle cx="1646.62" cy="264.6" r="3" fill="#1A1A6E"/><circle cx="1646.62" cy="269.2" r="3" fill="#1A1A6E"/><circle cx="1646.62" cy="272.9" r="3" fill="#1A1A6E"/><path d="M1673 333V436.6M1673 511.1V611.5" stroke="#1A1A6E" stroke-width="1.7"/><rect x="1663.7" y="436.6" width="18.6" height="74.5" fill="#005DFF" stroke="#1A1A6E" stroke-width="1.7"/><path d="M1663.7 475H1682.3" stroke="#1A1A6E" stroke-width="2.8"/><circle cx="1673" cy="92.5" r="3" fill="#1A1A6E"/><circle cx="1673" cy="235" r="3" fill="#1A1A6E"/><circle cx="1673" cy="242.8" r="3" fill="#1A1A6E"/><circle cx="1673" cy="283.1" r="3" fill="#1A1A6E"/><circle cx="1673" cy="622.1" r="3" fill="#1A1A6E"/><path d="M1699.38 178.1V388.5M1699.38 529.6V620.7" stroke="#1A1A6E" stroke-width="1.7"/><rect x="1690.08" y="388.5" width="18.6" height="141.1" fill="#002EFF" stroke="#1A1A6E" stroke-width="1.7"/><path d="M1690.08 479.2H1708.68" stroke="#1A1A6E" stroke-width="2.8"/><circle cx="1699.38" cy="88.8" r="3" fill="#1A1A6E"/><circle cx="1699.38" cy="92.5" r="3" fill="#1A1A6E"/><circle cx="1699.38" cy="122.6" r="3" fill="#1A1A6E"/><circle cx="1699.38" cy="127.2" r="3" fill="#1A1A6E"/><circle cx="1699.38" cy="141.1" r="3" fill="#1A1A6E"/><circle cx="1699.38" cy="161.9" r="3" fill="#1A1A6E"/><path d="M1725.76 234.5V416.3M1725.76 540.2V630" stroke="#1A1A6E" stroke-width="1.7"/><rect x="1716.46" y="416.3" width="18.6" height="123.9" fill="#0000FF" stroke="#1A1A6E" stroke-width="1.7"/><path d="M1716.46 481H1735.06" stroke="#1A1A6E" stroke-width="2.8"/><path d="M1752.14 299.7V446.3M1752.14 545.8V617.5" stroke="#1A1A6E" stroke-width="1.7"/><rect x="1742.84" y="446.3" width="18.6" height="99.5" fill="#2E00FF" stroke="#1A1A6E" stroke-width="1.7"/><path d="M1742.84 494.9H1761.44" stroke="#1A1A6E" stroke-width="2.8"/><circle cx="1752.14" cy="178.1" r="3" fill="#1A1A6E"/><circle cx="1752.14" cy="221.1" r="3" fill="#1A1A6E"/><circle cx="1752.14" cy="235" r="3" fill="#1A1A6E"/><circle cx="1752.14" cy="267.3" r="3" fill="#1A1A6E"/><circle cx="1752.14" cy="269.2" r="3" fill="#1A1A6E"/><circle cx="1752.14" cy="279.8" r="3" fill="#1A1A6E"/><circle cx="1752.14" cy="284.5" r="3" fill="#1A1A6E"/><path d="M1778.52 355.2V440.3M1778.52 527.3V588.3" stroke="#1A1A6E" stroke-width="1.7"/><rect x="1769.22" y="440.3" width="18.6" height="87" fill="#5D00FF" stroke="#1A1A6E" stroke-width="1.7"/><path d="M1769.22 497.2H1787.82" stroke="#1A1A6E" stroke-width="2.8"/><circle cx="1778.52" cy="305.3" r="3" fill="#1A1A6E"/><path d="M1804.9 364.5V470.9M1804.9 542.1V631.4" stroke="#1A1A6E" stroke-width="1.7"/><rect x="1795.6" y="470.9" width="18.6" height="71.2" fill="#8B00FF" stroke="#1A1A6E" stroke-width="1.7"/><path d="M1795.6 506.5H1814.2" stroke="#1A1A6E" stroke-width="2.8"/><circle cx="1804.9" cy="269.2" r="3" fill="#1A1A6E"/><circle cx="1804.9" cy="319.1" r="3" fill="#1A1A6E"/><circle cx="1804.9" cy="349.2" r="3" fill="#1A1A6E"/><circle cx="1804.9" cy="351.5" r="3" fill="#1A1A6E"/><path d="M1831.28 370V475.5M1831.28 557.4V637.4" stroke="#1A1A6E" stroke-width="1.7"/><rect x="1821.98" y="475.5" width="18.6" height="81.9" fill="#B900FF" stroke="#1A1A6E" stroke-width="1.7"/><path d="M1821.98 516.7H1840.58" stroke="#1A1A6E" stroke-width="2.8"/><circle cx="1831.28" cy="341.4" r="3" fill="#1A1A6E"/><path d="M1857.66 355.2V471.8M1857.66 551.3V617.5" stroke="#1A1A6E" stroke-width="1.7"/><rect x="1848.36" y="471.8" width="18.6" height="79.5" fill="#E800FF" stroke="#1A1A6E" stroke-width="1.7"/><path d="M1848.36 518H1866.96" stroke="#1A1A6E" stroke-width="2.8"/><circle cx="1857.66" cy="202.6" r="3" fill="#1A1A6E"/><circle cx="1857.66" cy="209.1" r="3" fill="#1A1A6E"/><circle cx="1857.66" cy="232.7" r="3" fill="#1A1A6E"/><circle cx="1857.66" cy="262.7" r="3" fill="#1A1A6E"/><circle cx="1857.66" cy="293.7" r="3" fill="#1A1A6E"/><circle cx="1857.66" cy="298.3" r="3" fill="#1A1A6E"/><circle cx="1857.66" cy="303" r="3" fill="#1A1A6E"/><circle cx="1857.66" cy="316.8" r="3" fill="#1A1A6E"/><circle cx="1857.66" cy="321.5" r="3" fill="#1A1A6E"/><circle cx="1857.66" cy="334" r="3" fill="#1A1A6E"/><circle cx="1857.66" cy="341.4" r="3" fill="#1A1A6E"/><circle cx="1857.66" cy="346" r="3" fill="#1A1A6E"/><path d="M1884.04 398.7V494M1884.04 561V622.1" stroke="#1A1A6E" stroke-width="1.7"/><rect x="1874.74" y="494" width="18.6" height="67" fill="#FF00E8" stroke="#1A1A6E" stroke-width="1.7"/><path d="M1874.74 527.3H1893.34" stroke="#1A1A6E" stroke-width="2.8"/><circle cx="1884.04" cy="344.6" r="3" fill="#1A1A6E"/><circle cx="1884.04" cy="364.5" r="3" fill="#1A1A6E"/><circle cx="1884.04" cy="372.3" r="3" fill="#1A1A6E"/><circle cx="1884.04" cy="375.6" r="3" fill="#1A1A6E"/><circle cx="1884.04" cy="388.5" r="3" fill="#1A1A6E"/><circle cx="1884.04" cy="392.2" r="3" fill="#1A1A6E"/><path d="M1910.42 443.1V504.2M1910.42 554.1V608.2" stroke="#1A1A6E" stroke-width="1.7"/><rect x="1901.12" y="504.2" width="18.6" height="49.9" fill="#FF00B9" stroke="#1A1A6E" stroke-width="1.7"/><path d="M1901.12 534.2H1919.72" stroke="#1A1A6E" stroke-width="2.8"/><circle cx="1910.42" cy="385.3" r="3" fill="#1A1A6E"/><circle cx="1910.42" cy="411.7" r="3" fill="#1A1A6E"/><circle cx="1910.42" cy="415.4" r="3" fill="#1A1A6E"/><circle cx="1910.42" cy="630.4" r="3" fill="#1A1A6E"/><path d="M1936.8 377V496.3M1936.8 581.4V639.2" stroke="#1A1A6E" stroke-width="1.7"/><rect x="1927.5" y="496.3" width="18.6" height="85.1" fill="#FF008B" stroke="#1A1A6E" stroke-width="1.7"/><path d="M1927.5 545.8H1946.1" stroke="#1A1A6E" stroke-width="2.8"/><circle cx="1936.8" cy="297.4" r="3" fill="#1A1A6E"/><circle cx="1936.8" cy="358.5" r="3" fill="#1A1A6E"/><circle cx="1936.8" cy="368.6" r="3" fill="#1A1A6E"/><path d="M1963.18 426.5V519M1963.18 581.9V639.2" stroke="#1A1A6E" stroke-width="1.7"/><rect x="1953.88" y="519" width="18.6" height="62.9" fill="#FF005D" stroke="#1A1A6E" stroke-width="1.7"/><path d="M1953.88 559.7H1972.48" stroke="#1A1A6E" stroke-width="2.8"/><circle cx="1963.18" cy="241.4" r="3" fill="#1A1A6E"/><circle cx="1963.18" cy="316.8" r="3" fill="#1A1A6E"/><circle cx="1963.18" cy="342.3" r="3" fill="#1A1A6E"/><circle cx="1963.18" cy="363.1" r="3" fill="#1A1A6E"/><path d="M1989.56 463.5V541.2M1989.56 601.3V634.6" stroke="#1A1A6E" stroke-width="1.7"/><rect x="1980.26" y="541.2" width="18.6" height="60.1" fill="#FF002E" stroke="#1A1A6E" stroke-width="1.7"/><path d="M1980.26 574.5H1998.86" stroke="#1A1A6E" stroke-width="2.8"/><path d="M1129.7 7.5V669.6H2005.5" fill="none" stroke="#000" stroke-width="1.6"/><path d="M1125.7 642.5H1129.7" stroke="#000" stroke-width="1.5"/><text x="1122.9" y="648.3" text-anchor="end" font-size="16.2" font-family="'Liberation Sans', Arial, Helvetica, sans-serif">0</text><path d="M1125.7 450.45H1129.7" stroke="#000" stroke-width="1.5"/><text x="1122.9" y="456.25" text-anchor="end" font-size="16.2" font-family="'Liberation Sans', Arial, Helvetica, sans-serif">5</text><path d="M1125.7 258.4H1129.7" stroke="#000" stroke-width="1.5"/><text x="1122.9" y="264.2" text-anchor="end" font-size="16.2" font-family="'Liberation Sans', Arial, Helvetica, sans-serif">10</text><path d="M1125.7 66.35H1129.7" stroke="#000" stroke-width="1.5"/><text x="1122.9" y="72.15" text-anchor="end" font-size="16.2" font-family="'Liberation Sans', Arial, Helvetica, sans-serif">15</text><path d="M1145.4 669.6V673.6" stroke="#000" stroke-width="1.5"/><text transform="translate(1145.4 676.6) rotate(-50)" text-anchor="end" font-size="15.3" font-family="'Liberation Sans', Arial, Helvetica, sans-serif" dy="0.72em">HNSC</text><path d="M1171.78 669.6V673.6" stroke="#000" stroke-width="1.5"/><text transform="translate(1171.78 676.6) rotate(-50)" text-anchor="end" font-size="15.3" font-family="'Liberation Sans', Arial, Helvetica, sans-serif" dy="0.72em">CESC</text><path d="M1198.16 669.6V673.6" stroke="#000" stroke-width="1.5"/><text transform="translate(1198.16 676.6) rotate(-50)" text-anchor="end" font-size="15.3" font-family="'Liberation Sans', Arial, Helvetica, sans-serif" dy="0.72em">LUSC</text><path d="M1224.54 669.6V673.6" stroke="#000" stroke-width="1.5"/><text transform="translate(1224.54 676.6) rotate(-50)" text-anchor="end" font-size="15.3" font-family="'Liberation Sans', Arial, Helvetica, sans-serif" dy="0.72em">ESCA</text><path d="M1250.92 669.6V673.6" stroke="#000" stroke-width="1.5"/><text transform="translate(1250.92 676.6) rotate(-50)" text-anchor="end" font-size="15.3" font-family="'Liberation Sans', Arial, Helvetica, sans-serif" dy="0.72em">BLCA</text><path d="M1277.3 669.6V673.6" stroke="#000" stroke-width="1.5"/><text transform="translate(1277.3 676.6) rotate(-50)" text-anchor="end" font-size="15.3" font-family="'Liberation Sans', Arial, Helvetica, sans-serif" dy="0.72em">LAML</text><path d="M1303.68 669.6V673.6" stroke="#000" stroke-width="1.5"/><text transform="translate(1303.68 676.6) rotate(-50)" text-anchor="end" font-size="15.3" font-family="'Liberation Sans', Arial, Helvetica, sans-serif" dy="0.72em">LUAD</text><path d="M1330.06 669.6V673.6" stroke="#000" stroke-width="1.5"/><text transform="translate(1330.06 676.6) rotate(-50)" text-anchor="end" font-size="15.3" font-family="'Liberation Sans', Arial, Helvetica, sans-serif" dy="0.72em">DLBC</text><path d="M1356.44 669.6V673.6" stroke="#000" stroke-width="1.5"/><text transform="translate(1356.44 676.6) rotate(-50)" text-anchor="end" font-size="15.3" font-family="'Liberation Sans', Arial, Helvetica, sans-serif" dy="0.72em">MESO</text><path d="M1382.82 669.6V673.6" stroke="#000" stroke-width="1.5"/><text transform="translate(1382.82 676.6) rotate(-50)" text-anchor="end" font-size="15.3" font-family="'Liberation Sans', Arial, Helvetica, sans-serif" dy="0.72em">GBM</text><path d="M1409.2 669.6V673.6" stroke="#000" stroke-width="1.5"/><text transform="translate(1409.2 676.6) rotate(-50)" text-anchor="end" font-size="15.3" font-family="'Liberation Sans', Arial, Helvetica, sans-serif" dy="0.72em">PAAD</text><path d="M1435.58 669.6V673.6" stroke="#000" stroke-width="1.5"/><text transform="translate(1435.58 676.6) rotate(-50)" text-anchor="end" font-size="15.3" font-family="'Liberation Sans', Arial, Helvetica, sans-serif" dy="0.72em">READ</text><path d="M1461.96 669.6V673.6" stroke="#000" stroke-width="1.5"/><text transform="translate(1461.96 676.6) rotate(-50)" text-anchor="end" font-size="15.3" font-family="'Liberation Sans', Arial, Helvetica, sans-serif" dy="0.72em">UCEC</text><path d="M1488.34 669.6V673.6" stroke="#000" stroke-width="1.5"/><text transform="translate(1488.34 676.6) rotate(-50)" text-anchor="end" font-size="15.3" font-family="'Liberation Sans', Arial, Helvetica, sans-serif" dy="0.72em">COAD</text><path d="M1514.72 669.6V673.6" stroke="#000" stroke-width="1.5"/><text transform="translate(1514.72 676.6) rotate(-50)" text-anchor="end" font-size="15.3" font-family="'Liberation Sans', Arial, Helvetica, sans-serif" dy="0.72em">STAD</text><path d="M1541.1 669.6V673.6" stroke="#000" stroke-width="1.5"/><text transform="translate(1541.1 676.6) rotate(-50)" text-anchor="end" font-size="15.3" font-family="'Liberation Sans', Arial, Helvetica, sans-serif" dy="0.72em">OV</text><path d="M1567.48 669.6V673.6" stroke="#000" stroke-width="1.5"/><text transform="translate(1567.48 676.6) rotate(-50)" text-anchor="end" font-size="15.3" font-family="'Liberation Sans', Arial, Helvetica, sans-serif" dy="0.72em">UCS</text><path d="M1593.86 669.6V673.6" stroke="#000" stroke-width="1.5"/><text transform="translate(1593.86 676.6) rotate(-50)" text-anchor="end" font-size="15.3" font-family="'Liberation Sans', Arial, Helvetica, sans-serif" dy="0.72em">KIRC</text><path d="M1620.24 669.6V673.6" stroke="#000" stroke-width="1.5"/><text transform="translate(1620.24 676.6) rotate(-50)" text-anchor="end" font-size="15.3" font-family="'Liberation Sans', Arial, Helvetica, sans-serif" dy="0.72em">TGCT</text><path d="M1646.62 669.6V673.6" stroke="#000" stroke-width="1.5"/><text transform="translate(1646.62 676.6) rotate(-50)" text-anchor="end" font-size="15.3" font-family="'Liberation Sans', Arial, Helvetica, sans-serif" dy="0.72em">SKCM</text><path d="M1673 669.6V673.6" stroke="#000" stroke-width="1.5"/><text transform="translate(1673 676.6) rotate(-50)" text-anchor="end" font-size="15.3" font-family="'Liberation Sans', Arial, Helvetica, sans-serif" dy="0.72em">KIRP</text><path d="M1699.38 669.6V673.6" stroke="#000" stroke-width="1.5"/><text transform="translate(1699.38 676.6) rotate(-50)" text-anchor="end" font-size="15.3" font-family="'Liberation Sans', Arial, Helvetica, sans-serif" dy="0.72em">BRCA</text><path d="M1725.76 669.6V673.6" stroke="#000" stroke-width="1.5"/><text transform="translate(1725.76 676.6) rotate(-50)" text-anchor="end" font-size="15.3" font-family="'Liberation Sans', Arial, Helvetica, sans-serif" dy="0.72em">SARC</text><path d="M1752.14 669.6V673.6" stroke="#000" stroke-width="1.5"/><text transform="translate(1752.14 676.6) rotate(-50)" text-anchor="end" font-size="15.3" font-family="'Liberation Sans', Arial, Helvetica, sans-serif" dy="0.72em">THYM</text><path d="M1778.52 669.6V673.6" stroke="#000" stroke-width="1.5"/><text transform="translate(1778.52 676.6) rotate(-50)" text-anchor="end" font-size="15.3" font-family="'Liberation Sans', Arial, Helvetica, sans-serif" dy="0.72em">CHOL</text><path d="M1804.9 669.6V673.6" stroke="#000" stroke-width="1.5"/><text transform="translate(1804.9 676.6) rotate(-50)" text-anchor="end" font-size="15.3" font-family="'Liberation Sans', Arial, Helvetica, sans-serif" dy="0.72em">THCA</text><path d="M1831.28 669.6V673.6" stroke="#000" stroke-width="1.5"/><text transform="translate(1831.28 676.6) rotate(-50)" text-anchor="end" font-size="15.3" font-family="'Liberation Sans', Arial, Helvetica, sans-serif" dy="0.72em">PCPG</text><path d="M1857.66 669.6V673.6" stroke="#000" stroke-width="1.5"/><text transform="translate(1857.66 676.6) rotate(-50)" text-anchor="end" font-size="15.3" font-family="'Liberation Sans', Arial, Helvetica, sans-serif" dy="0.72em">LIHC</text><path d="M1884.04 669.6V673.6" stroke="#000" stroke-width="1.5"/><text transform="translate(1884.04 676.6) rotate(-50)" text-anchor="end" font-size="15.3" font-family="'Liberation Sans', Arial, Helvetica, sans-serif" dy="0.72em">PRAD</text><path d="M1910.42 669.6V673.6" stroke="#000" stroke-width="1.5"/><text transform="translate(1910.42 676.6) rotate(-50)" text-anchor="end" font-size="15.3" font-family="'Liberation Sans', Arial, Helvetica, sans-serif" dy="0.72em">KICH</text><path d="M1936.8 669.6V673.6" stroke="#000" stroke-width="1.5"/><text transform="translate(1936.8 676.6) rotate(-50)" text-anchor="end" font-size="15.3" font-family="'Liberation Sans', Arial, Helvetica, sans-serif" dy="0.72em">LGG</text><path d="M1963.18 669.6V673.6" stroke="#000" stroke-width="1.5"/><text transform="translate(1963.18 676.6) rotate(-50)" text-anchor="end" font-size="15.3" font-family="'Liberation Sans', Arial, Helvetica, sans-serif" dy="0.72em">ACC</text><path d="M1989.56 669.6V673.6" stroke="#000" stroke-width="1.5"/><text transform="translate(1989.56 676.6) rotate(-50)" text-anchor="end" font-size="15.3" font-family="'Liberation Sans', Arial, Helvetica, sans-serif" dy="0.72em">UVM</text><text transform="translate(1098.5 338.3) rotate(-90)" text-anchor="middle" font-size="15.7" font-family="'Liberation Sans', Arial, Helvetica, sans-serif">S100A9 expression</text><text x="1016.5" y="52.5" font-size="45" font-weight="bold" font-family="'Liberation Serif', 'Times New Roman', serif">(b)</text><path d="M1145.4 785.7V801.9M1145.4 833.5V878.9" stroke="#000" stroke-width="1.5"/><rect x="1137.3" y="801.9" width="16.2" height="31.6" fill="#F8766D" stroke="#000" stroke-width="1.5"/><path d="M1137.3 812.2H1153.5" stroke="#000" stroke-width="2.8"/><circle cx="1145.4" cy="883.4" r="3.15" fill="#000"/><circle cx="1145.4" cy="887" r="3.15" fill="#000"/><circle cx="1145.4" cy="891" r="3.15" fill="#000"/><circle cx="1145.4" cy="895" r="3.15" fill="#000"/><circle cx="1145.4" cy="899" r="3.15" fill="#000"/><circle cx="1145.4" cy="903.6" r="3.15" fill="#000"/><circle cx="1145.4" cy="911.4" r="3.15" fill="#000"/><circle cx="1145.4" cy="937.2" r="3.15" fill="#000"/><circle cx="1145.4" cy="940.6" r="3.15" fill="#000"/><circle cx="1145.4" cy="944" r="3.15" fill="#000"/><circle cx="1145.4" cy="965.7" r="3.15" fill="#000"/><circle cx="1145.4" cy="974.7" r="3.15" fill="#000"/><circle cx="1145.4" cy="988.2" r="3.15" fill="#000"/><path d="M1171.78 814.4V839.1M1171.78 911.9V1004.6" stroke="#000" stroke-width="1.5"/><rect x="1163.68" y="839.1" width="16.2" height="72.8" fill="#F07E4D" stroke="#000" stroke-width="1.5"/><path d="M1163.68 858.7H1179.88" stroke="#000" stroke-width="2.8"/><path d="M1198.16 817.8V848.6M1198.16 899.1V973" stroke="#000" stroke-width="1.5"/><rect x="1190.06" y="848.6" width="16.2" height="50.5" fill="#E78619" stroke="#000" stroke-width="1.5"/><path d="M1190.06 871H1206.26" stroke="#000" stroke-width="2.8"/><circle cx="1198.16" cy="976.5" r="3.15" fill="#000"/><circle cx="1198.16" cy="980" r="3.15" fill="#000"/><circle cx="1198.16" cy="983.4" r="3.15" fill="#000"/><circle cx="1198.16" cy="986.8" r="3.15" fill="#000"/><circle cx="1198.16" cy="990" r="3.15" fill="#000"/><circle cx="1198.16" cy="993.4" r="3.15" fill="#000"/><circle cx="1198.16" cy="1001.2" r="3.15" fill="#000"/><circle cx="1198.16" cy="1008.4" r="3.15" fill="#000"/><circle cx="1198.16" cy="1020.3" r="3.15" fill="#000"/><path d="M1224.54 820.5V847M1224.54 955.9V1001.2" stroke="#000" stroke-width="1.5"/><rect x="1216.44" y="847" width="16.2" height="108.9" fill="#DB8E00" stroke="#000" stroke-width="1.5"/><path d="M1216.44 877.7H1232.64" stroke="#000" stroke-width="2.8"/><path d="M1250.92 819.8V884.9M1250.92 930V991.1" stroke="#000" stroke-width="1.5"/><rect x="1242.82" y="884.9" width="16.2" height="45.1" fill="#CE9500" stroke="#000" stroke-width="1.5"/><path d="M1242.82 909.2H1259.02" stroke="#000" stroke-width="2.8"/><circle cx="1250.92" cy="1000.1" r="3.15" fill="#000"/><circle cx="1250.92" cy="1011.3" r="3.15" fill="#000"/><circle cx="1250.92" cy="1013.5" r="3.15" fill="#000"/><path d="M1277.3 885.6V940.6M1277.3 978.3V1014.7" stroke="#000" stroke-width="1.5"/><rect x="1269.2" y="940.6" width="16.2" height="37.7" fill="#BF9C00" stroke="#000" stroke-width="1.5"/><path d="M1269.2 956.3H1285.4" stroke="#000" stroke-width="2.8"/><circle cx="1277.3" cy="862" r="3.15" fill="#000"/><circle cx="1277.3" cy="1036" r="3.15" fill="#000"/><circle cx="1277.3" cy="1042.7" r="3.15" fill="#000"/><circle cx="1277.3" cy="1056.2" r="3.15" fill="#000"/><circle cx="1277.3" cy="1059.6" r="3.15" fill="#000"/><circle cx="1277.3" cy="1062.9" r="3.15" fill="#000"/><circle cx="1277.3" cy="1066.3" r="3.15" fill="#000"/><path d="M1303.68 910V957.4M1303.68 990V1029.9" stroke="#000" stroke-width="1.5"/><rect x="1295.58" y="957.4" width="16.2" height="32.6" fill="#AEA200" stroke="#000" stroke-width="1.5"/><path d="M1295.58 974.7H1311.78" stroke="#000" stroke-width="2.8"/><circle cx="1303.68" cy="826.8" r="3.15" fill="#000"/><circle cx="1303.68" cy="836.2" r="3.15" fill="#000"/><circle cx="1303.68" cy="838.5" r="3.15" fill="#000"/><circle cx="1303.68" cy="862.5" r="3.15" fill="#000"/><circle cx="1303.68" cy="880" r="3.15" fill="#000"/><circle cx="1303.68" cy="889" r="3.15" fill="#000"/><circle cx="1303.68" cy="903.6" r="3.15" fill="#000"/><circle cx="1303.68" cy="905.8" r="3.15" fill="#000"/><path d="M1330.06 929.4V963M1330.06 986.6V1019.6" stroke="#000" stroke-width="1.5"/><rect x="1321.96" y="963" width="16.2" height="23.6" fill="#9AA800" stroke="#000" stroke-width="1.5"/><path d="M1321.96 976.1H1338.16" stroke="#000" stroke-width="2.8"/><circle cx="1330.06" cy="825.7" r="3.15" fill="#000"/><circle cx="1330.06" cy="828.8" r="3.15" fill="#000"/><circle cx="1330.06" cy="832.9" r="3.15" fill="#000"/><circle cx="1330.06" cy="836.2" r="3.15" fill="#000"/><circle cx="1330.06" cy="844.1" r="3.15" fill="#000"/><circle cx="1330.06" cy="851.9" r="3.15" fill="#000"/><circle cx="1330.06" cy="854.2" r="3.15" fill="#000"/><circle cx="1330.06" cy="857.5" r="3.15" fill="#000"/><circle cx="1330.06" cy="859.8" r="3.15" fill="#000"/><circle cx="1330.06" cy="869.9" r="3.15" fill="#000"/><circle cx="1330.06" cy="886.7" r="3.15" fill="#000"/><circle cx="1330.06" cy="893" r="3.15" fill="#000"/><circle cx="1330.06" cy="896.8" r="3.15" fill="#000"/><circle cx="1330.06" cy="904.7" r="3.15" fill="#000"/><circle cx="1330.06" cy="908.7" r="3.15" fill="#000"/><circle cx="1330.06" cy="913.7" r="3.15" fill="#000"/><circle cx="1330.06" cy="927.1" r="3.15" fill="#000"/><path d="M1356.44 913.2V960.3M1356.44 1003V1035.3" stroke="#000" stroke-width="1.5"/><rect x="1348.34" y="960.3" width="16.2" height="42.7" fill="#82AD00" stroke="#000" stroke-width="1.5"/><path d="M1348.34 977H1364.54" stroke="#000" stroke-width="2.8"/><circle cx="1356.44" cy="832.4" r="3.15" fill="#000"/><circle cx="1356.44" cy="869.9" r="3.15" fill="#000"/><circle cx="1356.44" cy="873.3" r="3.15" fill="#000"/><circle cx="1356.44" cy="882.9" r="3.15" fill="#000"/><path d="M1382.82 944V974.3M1382.82 993.3V1023.6" stroke="#000" stroke-width="1.5"/><rect x="1374.72" y="974.3" width="16.2" height="19" fill="#64B200" stroke="#000" stroke-width="1.5"/><path d="M1374.72 985H1390.92" stroke="#000" stroke-width="2.8"/><circle cx="1382.82" cy="828.8" r="3.15" fill="#000"/><circle cx="1382.82" cy="911" r="3.15" fill="#000"/><circle cx="1382.82" cy="914.8" r="3.15" fill="#000"/><circle cx="1382.82" cy="918.2" r="3.15" fill="#000"/><circle cx="1382.82" cy="922.6" r="3.15" fill="#000"/><circle cx="1382.82" cy="927.1" r="3.15" fill="#000"/><circle cx="1382.82" cy="930.5" r="3.15" fill="#000"/><circle cx="1382.82" cy="935" r="3.15" fill="#000"/><circle cx="1382.82" cy="942.8" r="3.15" fill="#000"/><path d="M1409.2 924.9V968.7M1409.2 999.6V1031.5" stroke="#000" stroke-width="1.5"/><rect x="1401.1" y="968.7" width="16.2" height="30.9" fill="#32B600" stroke="#000" stroke-width="1.5"/><path d="M1401.1 985.5H1417.3" stroke="#000" stroke-width="2.8"/><circle cx="1409.2" cy="828.4" r="3.15" fill="#000"/><circle cx="1409.2" cy="837.3" r="3.15" fill="#000"/><circle cx="1409.2" cy="844.1" r="3.15" fill="#000"/><circle cx="1409.2" cy="855.3" r="3.15" fill="#000"/><circle cx="1409.2" cy="858.7" r="3.15" fill="#000"/><circle cx="1409.2" cy="869.9" r="3.15" fill="#000"/><circle cx="1409.2" cy="880" r="3.15" fill="#000"/><circle cx="1409.2" cy="883.3" r="3.15" fill="#000"/><circle cx="1409.2" cy="886.6" r="3.15" fill="#000"/><circle cx="1409.2" cy="889.9" r="3.15" fill="#000"/><circle cx="1409.2" cy="893.2" r="3.15" fill="#000"/><circle cx="1409.2" cy="896.5" r="3.15" fill="#000"/><circle cx="1409.2" cy="899.8" r="3.15" fill="#000"/><circle cx="1409.2" cy="903.1" r="3.15" fill="#000"/><circle cx="1409.2" cy="906.4" r="3.15" fill="#000"/><circle cx="1409.2" cy="909.7" r="3.15" fill="#000"/><circle cx="1409.2" cy="913" r="3.15" fill="#000"/><circle cx="1409.2" cy="916.3" r="3.15" fill="#000"/><circle cx="1409.2" cy="919.6" r="3.15" fill="#000"/><path d="M1435.58 923.3V969.8M1435.58 1003V1043.4" stroke="#000" stroke-width="1.5"/><rect x="1427.48" y="969.8" width="16.2" height="33.2" fill="#00BA38" stroke="#000" stroke-width="1.5"/><path d="M1427.48 986.6H1443.68" stroke="#000" stroke-width="2.8"/><circle cx="1435.58" cy="849" r="3.15" fill="#000"/><circle cx="1435.58" cy="866.5" r="3.15" fill="#000"/><circle cx="1435.58" cy="869.8" r="3.15" fill="#000"/><circle cx="1435.58" cy="873.1" r="3.15" fill="#000"/><circle cx="1435.58" cy="876.4" r="3.15" fill="#000"/><circle cx="1435.58" cy="879.7" r="3.15" fill="#000"/><circle cx="1435.58" cy="883" r="3.15" fill="#000"/><circle cx="1435.58" cy="886.3" r="3.15" fill="#000"/><circle cx="1435.58" cy="889.6" r="3.15" fill="#000"/><circle cx="1435.58" cy="899.7" r="3.15" fill="#000"/><circle cx="1435.58" cy="903" r="3.15" fill="#000"/><circle cx="1435.58" cy="906.3" r="3.15" fill="#000"/><circle cx="1435.58" cy="909.6" r="3.15" fill="#000"/><circle cx="1435.58" cy="912.9" r="3.15" fill="#000"/><circle cx="1435.58" cy="916.2" r="3.15" fill="#000"/><circle cx="1435.58" cy="919.5" r="3.15" fill="#000"/><path d="M1461.96 951.8V988.2M1461.96 1012.9V1030.4" stroke="#000" stroke-width="1.5"/><rect x="1453.86" y="988.2" width="16.2" height="24.7" fill="#00BD5C" stroke="#000" stroke-width="1.5"/><path d="M1453.86 1004.1H1470.06" stroke="#000" stroke-width="2.8"/><circle cx="1461.96" cy="827.2" r="3.15" fill="#000"/><circle cx="1461.96" cy="830.2" r="3.15" fill="#000"/><circle cx="1461.96" cy="833.2" r="3.15" fill="#000"/><circle cx="1461.96" cy="836.2" r="3.15" fill="#000"/><circle cx="1461.96" cy="839.2" r="3.15" fill="#000"/><circle cx="1461.96" cy="842.2" r="3.15" fill="#000"/><circle cx="1461.96" cy="845.2" r="3.15" fill="#000"/><circle cx="1461.96" cy="848.2" r="3.15" fill="#000"/><circle cx="1461.96" cy="851.2" r="3.15" fill="#000"/><circle cx="1461.96" cy="854.2" r="3.15" fill="#000"/><circle cx="1461.96" cy="857.2" r="3.15" fill="#000"/><circle cx="1461.96" cy="860.2" r="3.15" fill="#000"/><circle cx="1461.96" cy="863.2" r="3.15" fill="#000"/><circle cx="1461.96" cy="866.2" r="3.15" fill="#000"/><circle cx="1461.96" cy="869.2" r="3.15" fill="#000"/><circle cx="1461.96" cy="872.2" r="3.15" fill="#000"/><circle cx="1461.96" cy="875.2" r="3.15" fill="#000"/><circle cx="1461.96" cy="878.2" r="3.15" fill="#000"/><circle cx="1461.96" cy="881.2" r="3.15" fill="#000"/><circle cx="1461.96" cy="884.2" r="3.15" fill="#000"/><circle cx="1461.96" cy="887.2" r="3.15" fill="#000"/><circle cx="1461.96" cy="890.2" r="3.15" fill="#000"/><circle cx="1461.96" cy="893.2" r="3.15" fill="#000"/><circle cx="1461.96" cy="896.2" r="3.15" fill="#000"/><circle cx="1461.96" cy="899.2" r="3.15" fill="#000"/><circle cx="1461.96" cy="902.2" r="3.15" fill="#000"/><circle cx="1461.96" cy="905.2" r="3.15" fill="#000"/><circle cx="1461.96" cy="908.2" r="3.15" fill="#000"/><circle cx="1461.96" cy="911.2" r="3.15" fill="#000"/><circle cx="1461.96" cy="914.2" r="3.15" fill="#000"/><circle cx="1461.96" cy="917.2" r="3.15" fill="#000"/><circle cx="1461.96" cy="920.2" r="3.15" fill="#000"/><circle cx="1461.96" cy="923.2" r="3.15" fill="#000"/><circle cx="1461.96" cy="926.2" r="3.15" fill="#000"/><circle cx="1461.96" cy="929.2" r="3.15" fill="#000"/><circle cx="1461.96" cy="932.2" r="3.15" fill="#000"/><circle cx="1461.96" cy="935.2" r="3.15" fill="#000"/><circle cx="1461.96" cy="938.2" r="3.15" fill="#000"/><circle cx="1461.96" cy="941.2" r="3.15" fill="#000"/><circle cx="1461.96" cy="944.2" r="3.15" fill="#000"/><circle cx="1461.96" cy="947.2" r="3.15" fill="#000"/><path d="M1488.34 942.4V991.1M1488.34 1025.9V1076.4" stroke="#000" stroke-width="1.5"/><rect x="1480.24" y="991.1" width="16.2" height="34.8" fill="#00BF78" stroke="#000" stroke-width="1.5"/><path d="M1480.24 1009.7H1496.44" stroke="#000" stroke-width="2.8"/><circle cx="1488.34" cy="904.7" r="3.15" fill="#000"/><circle cx="1488.34" cy="919.3" r="3.15" fill="#000"/><circle cx="1488.34" cy="930.5" r="3.15" fill="#000"/><circle cx="1488.34" cy="935.7" r="3.15" fill="#000"/><path d="M1514.72 979.9V1002.3M1514.72 1018.5V1038.9" stroke="#000" stroke-width="1.5"/><rect x="1506.62" y="1002.3" width="16.2" height="16.2" fill="#00C091" stroke="#000" stroke-width="1.5"/><path d="M1506.62 1009.7H1522.82" stroke="#000" stroke-width="2.8"/><circle cx="1514.72" cy="835.8" r="3.15" fill="#000"/><circle cx="1514.72" cy="887.8" r="3.15" fill="#000"/><circle cx="1514.72" cy="896.8" r="3.15" fill="#000"/><circle cx="1514.72" cy="919.3" r="3.15" fill="#000"/><circle cx="1514.72" cy="954" r="3.15" fill="#000"/><circle cx="1514.72" cy="957.3" r="3.15" fill="#000"/><circle cx="1514.72" cy="960.6" r="3.15" fill="#000"/><circle cx="1514.72" cy="963.9" r="3.15" fill="#000"/><circle cx="1514.72" cy="967.2" r="3.15" fill="#000"/><circle cx="1514.72" cy="970.5" r="3.15" fill="#000"/><circle cx="1514.72" cy="973.8" r="3.15" fill="#000"/><path d="M1541.1 959.7V994.5M1541.1 1023.6V1060" stroke="#000" stroke-width="1.5"/><rect x="1533" y="994.5" width="16.2" height="29.1" fill="#00C1A7" stroke="#000" stroke-width="1.5"/><path d="M1533 1011.7H1549.2" stroke="#000" stroke-width="2.8"/><circle cx="1541.1" cy="891.2" r="3.15" fill="#000"/><circle cx="1541.1" cy="925.3" r="3.15" fill="#000"/><circle cx="1541.1" cy="938.8" r="3.15" fill="#000"/><circle cx="1541.1" cy="944" r="3.15" fill="#000"/><circle cx="1541.1" cy="949.6" r="3.15" fill="#000"/><path d="M1567.48 932.7V997.4M1567.48 1042.3V1102" stroke="#000" stroke-width="1.5"/><rect x="1559.38" y="997.4" width="16.2" height="44.9" fill="#00C0BB" stroke="#000" stroke-width="1.5"/><path d="M1559.38 1016.5H1575.58" stroke="#000" stroke-width="2.8"/><circle cx="1567.48" cy="906.3" r="3.15" fill="#000"/><circle cx="1567.48" cy="913" r="3.15" fill="#000"/><path d="M1593.86 994.5V1018M1593.86 1034.4V1058.4" stroke="#000" stroke-width="1.5"/><rect x="1585.76" y="1018" width="16.2" height="16.4" fill="#00BECD" stroke="#000" stroke-width="1.5"/><path d="M1585.76 1025.9H1601.96" stroke="#000" stroke-width="2.8"/><circle cx="1593.86" cy="855.7" r="3.15" fill="#000"/><circle cx="1593.86" cy="904.2" r="3.15" fill="#000"/><circle cx="1593.86" cy="906.5" r="3.15" fill="#000"/><circle cx="1593.86" cy="919.9" r="3.15" fill="#000"/><circle cx="1593.86" cy="954.1" r="3.15" fill="#000"/><circle cx="1593.86" cy="973.1" r="3.15" fill="#000"/><circle cx="1593.86" cy="978.8" r="3.15" fill="#000"/><circle cx="1593.86" cy="987.3" r="3.15" fill="#000"/><path d="M1620.24 960.8V1010.2M1620.24 1043.8V1074.2" stroke="#000" stroke-width="1.5"/><rect x="1612.14" y="1010.2" width="16.2" height="33.6" fill="#00BADE" stroke="#000" stroke-width="1.5"/><path d="M1612.14 1028.1H1628.34" stroke="#000" stroke-width="2.8"/><circle cx="1620.24" cy="875.1" r="3.15" fill="#000"/><circle cx="1620.24" cy="901.3" r="3.15" fill="#000"/><circle cx="1620.24" cy="922.2" r="3.15" fill="#000"/><circle cx="1620.24" cy="930.5" r="3.15" fill="#000"/><circle cx="1620.24" cy="946.9" r="3.15" fill="#000"/><circle cx="1620.24" cy="956.3" r="3.15" fill="#000"/><path d="M1646.62 950V995.3M1646.62 1049.9V1092.8" stroke="#000" stroke-width="1.5"/><rect x="1638.52" y="995.3" width="16.2" height="54.6" fill="#00B5ED" stroke="#000" stroke-width="1.5"/><path d="M1638.52 1028.4H1654.72" stroke="#000" stroke-width="2.8"/><circle cx="1646.62" cy="889.5" r="3.15" fill="#000"/><circle cx="1646.62" cy="904" r="3.15" fill="#000"/><path d="M1673 925.5V1003.4M1673 1056.1V1128.8" stroke="#000" stroke-width="1.5"/><rect x="1664.9" y="1003.4" width="16.2" height="52.7" fill="#00AEF9" stroke="#000" stroke-width="1.5"/><path d="M1664.9 1031.6H1681.1" stroke="#000" stroke-width="2.8"/><path d="M1699.38 990.4V1035M1699.38 1068.3V1102.4" stroke="#000" stroke-width="1.5"/><rect x="1691.28" y="1035" width="16.2" height="33.3" fill="#00A6FF" stroke="#000" stroke-width="1.5"/><path d="M1691.28 1049.2H1707.48" stroke="#000" stroke-width="2.8"/><circle cx="1699.38" cy="899.1" r="3.15" fill="#000"/><circle cx="1699.38" cy="936" r="3.15" fill="#000"/><circle cx="1699.38" cy="948" r="3.15" fill="#000"/><circle cx="1699.38" cy="970.8" r="3.15" fill="#000"/><circle cx="1699.38" cy="974.5" r="3.15" fill="#000"/><circle cx="1699.38" cy="978.2" r="3.15" fill="#000"/><path d="M1725.76 997.3V1039.9M1725.76 1080.5V1101.6" stroke="#000" stroke-width="1.5"/><rect x="1717.66" y="1039.9" width="16.2" height="40.6" fill="#619CFF" stroke="#000" stroke-width="1.5"/><path d="M1717.66 1067.1H1733.86" stroke="#000" stroke-width="2.8"/><circle cx="1725.76" cy="918.9" r="3.15" fill="#000"/><circle cx="1725.76" cy="959.3" r="3.15" fill="#000"/><path d="M1752.14 1048V1070.4M1752.14 1091V1114.4" stroke="#000" stroke-width="1.5"/><rect x="1744.04" y="1070.4" width="16.2" height="20.6" fill="#9191FF" stroke="#000" stroke-width="1.5"/><path d="M1744.04 1083H1760.24" stroke="#000" stroke-width="2.8"/><circle cx="1752.14" cy="911.6" r="3.15" fill="#000"/><circle cx="1752.14" cy="1002.2" r="3.15" fill="#000"/><circle cx="1752.14" cy="1017.9" r="3.15" fill="#000"/><circle cx="1752.14" cy="1032.2" r="3.15" fill="#000"/><circle cx="1752.14" cy="1036.3" r="3.15" fill="#000"/><circle cx="1752.14" cy="1039.6" r="3.15" fill="#000"/><path d="M1778.52 1024.7V1071.8M1778.52 1103.7V1135.1" stroke="#000" stroke-width="1.5"/><rect x="1770.42" y="1071.8" width="16.2" height="31.9" fill="#B385FF" stroke="#000" stroke-width="1.5"/><path d="M1770.42 1088.9H1786.62" stroke="#000" stroke-width="2.8"/><circle cx="1778.52" cy="932.1" r="3.15" fill="#000"/><circle cx="1778.52" cy="958.1" r="3.15" fill="#000"/><circle cx="1778.52" cy="988" r="3.15" fill="#000"/><circle cx="1778.52" cy="996.5" r="3.15" fill="#000"/><circle cx="1778.52" cy="999.8" r="3.15" fill="#000"/><circle cx="1778.52" cy="1003.1" r="3.15" fill="#000"/><circle cx="1778.52" cy="1006.4" r="3.15" fill="#000"/><circle cx="1778.52" cy="1009.7" r="3.15" fill="#000"/><circle cx="1778.52" cy="1013" r="3.15" fill="#000"/><circle cx="1778.52" cy="1016.3" r="3.15" fill="#000"/><circle cx="1778.52" cy="1019.6" r="3.15" fill="#000"/><path d="M1804.9 1035.7V1087M1804.9 1121.3V1147.9" stroke="#000" stroke-width="1.5"/><rect x="1796.8" y="1087" width="16.2" height="34.3" fill="#CD79FF" stroke="#000" stroke-width="1.5"/><path d="M1796.8 1106.2H1813" stroke="#000" stroke-width="2.8"/><circle cx="1804.9" cy="972.5" r="3.15" fill="#000"/><circle cx="1804.9" cy="1001" r="3.15" fill="#000"/><circle cx="1804.9" cy="1004.3" r="3.15" fill="#000"/><circle cx="1804.9" cy="1007.6" r="3.15" fill="#000"/><circle cx="1804.9" cy="1010.9" r="3.15" fill="#000"/><circle cx="1804.9" cy="1014.2" r="3.15" fill="#000"/><circle cx="1804.9" cy="1017.5" r="3.15" fill="#000"/><circle cx="1804.9" cy="1020.8" r="3.15" fill="#000"/><circle cx="1804.9" cy="1024.1" r="3.15" fill="#000"/><circle cx="1804.9" cy="1027.4" r="3.15" fill="#000"/><circle cx="1804.9" cy="1030.7" r="3.15" fill="#000"/><path d="M1831.28 1095.5V1161.5M1831.28 1215.9V1255.4" stroke="#000" stroke-width="1.5"/><rect x="1823.18" y="1161.5" width="16.2" height="54.4" fill="#E16FF8" stroke="#000" stroke-width="1.5"/><path d="M1823.18 1186H1839.38" stroke="#000" stroke-width="2.8"/><circle cx="1831.28" cy="1052.1" r="3.15" fill="#000"/><path d="M1857.66 1103V1166.9M1857.66 1218.1V1263.5" stroke="#000" stroke-width="1.5"/><rect x="1849.56" y="1166.9" width="16.2" height="51.2" fill="#EF67EB" stroke="#000" stroke-width="1.5"/><path d="M1849.56 1194.1H1865.76" stroke="#000" stroke-width="2.8"/><circle cx="1857.66" cy="1069.8" r="3.15" fill="#000"/><circle cx="1857.66" cy="1085.9" r="3.15" fill="#000"/><path d="M1884.04 1155.2V1182.4M1884.04 1205V1232.8" stroke="#000" stroke-width="1.5"/><rect x="1875.94" y="1182.4" width="16.2" height="22.6" fill="#F962DB" stroke="#000" stroke-width="1.5"/><path d="M1875.94 1195H1892.14" stroke="#000" stroke-width="2.8"/><circle cx="1884.04" cy="1030.1" r="3.15" fill="#000"/><circle cx="1884.04" cy="1099.7" r="3.15" fill="#000"/><circle cx="1884.04" cy="1126.1" r="3.15" fill="#000"/><circle cx="1884.04" cy="1131" r="3.15" fill="#000"/><path d="M1910.42 1112V1166.9M1910.42 1228.2V1314.7" stroke="#000" stroke-width="1.5"/><rect x="1902.32" y="1166.9" width="16.2" height="61.3" fill="#FF61CA" stroke="#000" stroke-width="1.5"/><path d="M1902.32 1196.9H1918.52" stroke="#000" stroke-width="2.8"/><path d="M1936.8 1137V1186M1936.8 1219.5V1245.9" stroke="#000" stroke-width="1.5"/><rect x="1928.7" y="1186" width="16.2" height="33.5" fill="#FF63B6" stroke="#000" stroke-width="1.5"/><path d="M1928.7 1203.7H1944.9" stroke="#000" stroke-width="2.8"/><circle cx="1936.8" cy="1042.6" r="3.15" fill="#000"/><circle cx="1936.8" cy="1055.4" r="3.15" fill="#000"/><circle cx="1936.8" cy="1059.5" r="3.15" fill="#000"/><circle cx="1936.8" cy="1063" r="3.15" fill="#000"/><circle cx="1936.8" cy="1093" r="3.15" fill="#000"/><circle cx="1936.8" cy="1096.3" r="3.15" fill="#000"/><circle cx="1936.8" cy="1099.6" r="3.15" fill="#000"/><circle cx="1936.8" cy="1102.9" r="3.15" fill="#000"/><circle cx="1936.8" cy="1106.2" r="3.15" fill="#000"/><circle cx="1936.8" cy="1109.5" r="3.15" fill="#000"/><circle cx="1936.8" cy="1112.8" r="3.15" fill="#000"/><circle cx="1936.8" cy="1116.1" r="3.15" fill="#000"/><circle cx="1936.8" cy="1119.4" r="3.15" fill="#000"/><circle cx="1936.8" cy="1122.7" r="3.15" fill="#000"/><circle cx="1936.8" cy="1126" r="3.15" fill="#000"/><circle cx="1936.8" cy="1129.3" r="3.15" fill="#000"/><circle cx="1936.8" cy="1132.6" r="3.15" fill="#000"/><path d="M1963.18 1171V1216.5M1963.18 1256.7V1297" stroke="#000" stroke-width="1.5"/><rect x="1955.08" y="1216.5" width="16.2" height="40.2" fill="#FF68A0" stroke="#000" stroke-width="1.5"/><path d="M1955.08 1238.2H1971.28" stroke="#000" stroke-width="2.8"/><circle cx="1963.18" cy="1093.5" r="3.15" fill="#000"/><circle cx="1963.18" cy="1116" r="3.15" fill="#000"/><circle cx="1963.18" cy="1155.2" r="3.15" fill="#000"/><path d="M1989.56 1251.3V1305.7M1989.56 1346V1387.3" stroke="#000" stroke-width="1.5"/><rect x="1981.46" y="1305.7" width="16.2" height="40.3" fill="#FD6F88" stroke="#000" stroke-width="1.5"/><path d="M1981.46 1325.3H1997.66" stroke="#000" stroke-width="2.8"/><circle cx="1989.56" cy="1184.6" r="3.15" fill="#000"/><circle cx="1989.56" cy="1215.9" r="3.15" fill="#000"/><circle cx="1989.56" cy="1220.8" r="3.15" fill="#000"/><path d="M1129.7 755V1417.8H2005.5" fill="none" stroke="#000" stroke-width="1.6"/><path d="M1125.7 955H1129.7" stroke="#000" stroke-width="1.5"/><text x="1122.9" y="960.8" text-anchor="end" font-size="16.2" font-family="'Liberation Sans', Arial, Helvetica, sans-serif">0</text><path d="M1125.7 1158.4H1129.7" stroke="#000" stroke-width="1.5"/><text x="1122.9" y="1164.2" text-anchor="end" font-size="16.2" font-family="'Liberation Sans', Arial, Helvetica, sans-serif">−1</text><path d="M1125.7 1361.8H1129.7" stroke="#000" stroke-width="1.5"/><text x="1122.9" y="1367.6" text-anchor="end" font-size="16.2" font-family="'Liberation Sans', Arial, Helvetica, sans-serif">−2</text><path d="M1145.4 1417.8V1421.8" stroke="#000" stroke-width="1.5"/><text transform="translate(1145.4 1424.8) rotate(-50)" text-anchor="end" font-size="15.3" font-family="'Liberation Sans', Arial, Helvetica, sans-serif" dy="0.72em">HNSC</text><path d="M1171.78 1417.8V1421.8" stroke="#000" stroke-width="1.5"/><text transform="translate(1171.78 1424.8) rotate(-50)" text-anchor="end" font-size="15.3" font-family="'Liberation Sans', Arial, Helvetica, sans-serif" dy="0.72em">CESC</text><path d="M1198.16 1417.8V1421.8" stroke="#000" stroke-width="1.5"/><text transform="translate(1198.16 1424.8) rotate(-50)" text-anchor="end" font-size="15.3" font-family="'Liberation Sans', Arial, Helvetica, sans-serif" dy="0.72em">LUSC</text><path d="M1224.54 1417.8V1421.8" stroke="#000" stroke-width="1.5"/><text transform="translate(1224.54 1424.8) rotate(-50)" text-anchor="end" font-size="15.3" font-family="'Liberation Sans', Arial, Helvetica, sans-serif" dy="0.72em">ESCA</text><path d="M1250.92 1417.8V1421.8" stroke="#000" stroke-width="1.5"/><text transform="translate(1250.92 1424.8) rotate(-50)" text-anchor="end" font-size="15.3" font-family="'Liberation Sans', Arial, Helvetica, sans-serif" dy="0.72em">BLCA</text><path d="M1277.3 1417.8V1421.8" stroke="#000" stroke-width="1.5"/><text transform="translate(1277.3 1424.8) rotate(-50)" text-anchor="end" font-size="15.3" font-family="'Liberation Sans', Arial, Helvetica, sans-serif" dy="0.72em">PAAD</text><path d="M1303.68 1417.8V1421.8" stroke="#000" stroke-width="1.5"/><text transform="translate(1303.68 1424.8) rotate(-50)" text-anchor="end" font-size="15.3" font-family="'Liberation Sans', Arial, Helvetica, sans-serif" dy="0.72em">LUAD</text><path d="M1330.06 1417.8V1421.8" stroke="#000" stroke-width="1.5"/><text transform="translate(1330.06 1424.8) rotate(-50)" text-anchor="end" font-size="15.3" font-family="'Liberation Sans', Arial, Helvetica, sans-serif" dy="0.72em">STAD</text><path d="M1356.44 1417.8V1421.8" stroke="#000" stroke-width="1.5"/><text transform="translate(1356.44 1424.8) rotate(-50)" text-anchor="end" font-size="15.3" font-family="'Liberation Sans', Arial, Helvetica, sans-serif" dy="0.72em">THYM</text><path d="M1382.82 1417.8V1421.8" stroke="#000" stroke-width="1.5"/><text transform="translate(1382.82 1424.8) rotate(-50)" text-anchor="end" font-size="15.3" font-family="'Liberation Sans', Arial, Helvetica, sans-serif" dy="0.72em">COAD</text><path d="M1409.2 1417.8V1421.8" stroke="#000" stroke-width="1.5"/><text transform="translate(1409.2 1424.8) rotate(-50)" text-anchor="end" font-size="15.3" font-family="'Liberation Sans', Arial, Helvetica, sans-serif" dy="0.72em">BRCA</text><path d="M1435.58 1417.8V1421.8" stroke="#000" stroke-width="1.5"/><text transform="translate(1435.58 1424.8) rotate(-50)" text-anchor="end" font-size="15.3" font-family="'Liberation Sans', Arial, Helvetica, sans-serif" dy="0.72em">UCEC</text><path d="M1461.96 1417.8V1421.8" stroke="#000" stroke-width="1.5"/><text transform="translate(1461.96 1424.8) rotate(-50)" text-anchor="end" font-size="15.3" font-family="'Liberation Sans', Arial, Helvetica, sans-serif" dy="0.72em">SKCM</text><path d="M1488.34 1417.8V1421.8" stroke="#000" stroke-width="1.5"/><text transform="translate(1488.34 1424.8) rotate(-50)" text-anchor="end" font-size="15.3" font-family="'Liberation Sans', Arial, Helvetica, sans-serif" dy="0.72em">PRAD</text><path d="M1514.72 1417.8V1421.8" stroke="#000" stroke-width="1.5"/><text transform="translate(1514.72 1424.8) rotate(-50)" text-anchor="end" font-size="15.3" font-family="'Liberation Sans', Arial, Helvetica, sans-serif" dy="0.72em">TGCT</text><path d="M1541.1 1417.8V1421.8" stroke="#000" stroke-width="1.5"/><text transform="translate(1541.1 1424.8) rotate(-50)" text-anchor="end" font-size="15.3" font-family="'Liberation Sans', Arial, Helvetica, sans-serif" dy="0.72em">READ</text><path d="M1567.48 1417.8V1421.8" stroke="#000" stroke-width="1.5"/><text transform="translate(1567.48 1424.8) rotate(-50)" text-anchor="end" font-size="15.3" font-family="'Liberation Sans', Arial, Helvetica, sans-serif" dy="0.72em">OV</text><path d="M1593.86 1417.8V1421.8" stroke="#000" stroke-width="1.5"/><text transform="translate(1593.86 1424.8) rotate(-50)" text-anchor="end" font-size="15.3" font-family="'Liberation Sans', Arial, Helvetica, sans-serif" dy="0.72em">KIRP</text><path d="M1620.24 1417.8V1421.8" stroke="#000" stroke-width="1.5"/><text transform="translate(1620.24 1424.8) rotate(-50)" text-anchor="end" font-size="15.3" font-family="'Liberation Sans', Arial, Helvetica, sans-serif" dy="0.72em">THCA</text><path d="M1646.62 1417.8V1421.8" stroke="#000" stroke-width="1.5"/><text transform="translate(1646.62 1424.8) rotate(-50)" text-anchor="end" font-size="15.3" font-family="'Liberation Sans', Arial, Helvetica, sans-serif" dy="0.72em">UCS</text><path d="M1673 1417.8V1421.8" stroke="#000" stroke-width="1.5"/><text transform="translate(1673 1424.8) rotate(-50)" text-anchor="end" font-size="15.3" font-family="'Liberation Sans', Arial, Helvetica, sans-serif" dy="0.72em">MESO</text><path d="M1699.38 1417.8V1421.8" stroke="#000" stroke-width="1.5"/><text transform="translate(1699.38 1424.8) rotate(-50)" text-anchor="end" font-size="15.3" font-family="'Liberation Sans', Arial, Helvetica, sans-serif" dy="0.72em">SARC</text><path d="M1725.76 1417.8V1421.8" stroke="#000" stroke-width="1.5"/><text transform="translate(1725.76 1424.8) rotate(-50)" text-anchor="end" font-size="15.3" font-family="'Liberation Sans', Arial, Helvetica, sans-serif" dy="0.72em">CHOL</text><path d="M1752.14 1417.8V1421.8" stroke="#000" stroke-width="1.5"/><text transform="translate(1752.14 1424.8) rotate(-50)" text-anchor="end" font-size="15.3" font-family="'Liberation Sans', Arial, Helvetica, sans-serif" dy="0.72em">ACC</text><path d="M1778.52 1417.8V1421.8" stroke="#000" stroke-width="1.5"/><text transform="translate(1778.52 1424.8) rotate(-50)" text-anchor="end" font-size="15.3" font-family="'Liberation Sans', Arial, Helvetica, sans-serif" dy="0.72em">LIHC</text><path d="M1804.9 1417.8V1421.8" stroke="#000" stroke-width="1.5"/><text transform="translate(1804.9 1424.8) rotate(-50)" text-anchor="end" font-size="15.3" font-family="'Liberation Sans', Arial, Helvetica, sans-serif" dy="0.72em">KIRC</text><path d="M1831.28 1417.8V1421.8" stroke="#000" stroke-width="1.5"/><text transform="translate(1831.28 1424.8) rotate(-50)" text-anchor="end" font-size="15.3" font-family="'Liberation Sans', Arial, Helvetica, sans-serif" dy="0.72em">DLBC</text><path d="M1857.66 1417.8V1421.8" stroke="#000" stroke-width="1.5"/><text transform="translate(1857.66 1424.8) rotate(-50)" text-anchor="end" font-size="15.3" font-family="'Liberation Sans', Arial, Helvetica, sans-serif" dy="0.72em">GBM</text><path d="M1884.04 1417.8V1421.8" stroke="#000" stroke-width="1.5"/><text transform="translate(1884.04 1424.8) rotate(-50)" text-anchor="end" font-size="15.3" font-family="'Liberation Sans', Arial, Helvetica, sans-serif" dy="0.72em">UVM</text><path d="M1910.42 1417.8V1421.8" stroke="#000" stroke-width="1.5"/><text transform="translate(1910.42 1424.8) rotate(-50)" text-anchor="end" font-size="15.3" font-family="'Liberation Sans', Arial, Helvetica, sans-serif" dy="0.72em">LAML</text><path d="M1936.8 1417.8V1421.8" stroke="#000" stroke-width="1.5"/><text transform="translate(1936.8 1424.8) rotate(-50)" text-anchor="end" font-size="15.3" font-family="'Liberation Sans', Arial, Helvetica, sans-serif" dy="0.72em">LGG</text><path d="M1963.18 1417.8V1421.8" stroke="#000" stroke-width="1.5"/><text transform="translate(1963.18 1424.8) rotate(-50)" text-anchor="end" font-size="15.3" font-family="'Liberation Sans', Arial, Helvetica, sans-serif" dy="0.72em">KICH</text><path d="M1989.56 1417.8V1421.8" stroke="#000" stroke-width="1.5"/><text transform="translate(1989.56 1424.8) rotate(-50)" text-anchor="end" font-size="15.3" font-family="'Liberation Sans', Arial, Helvetica, sans-serif" dy="0.72em">PCPG</text><text transform="translate(1098.5 1086.4) rotate(-90)" text-anchor="middle" font-size="15.7" font-family="'Liberation Sans', Arial, Helvetica, sans-serif">S100A9_activity</text><text x="1019" y="777.5" font-size="45" font-weight="bold" font-family="'Liberation Serif', 'Times New Roman', serif">(d)</text></svg></body></html>
